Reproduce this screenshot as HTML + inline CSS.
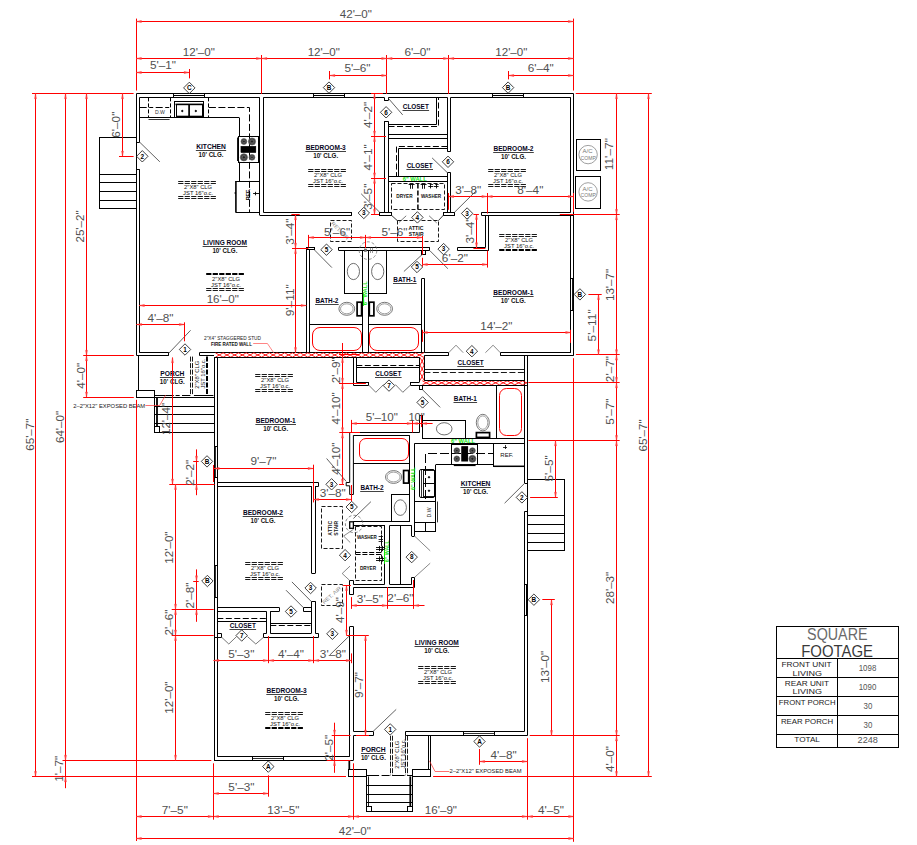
<!DOCTYPE html>
<html><head><meta charset="utf-8"><title>Floor Plan</title>
<style>
html,body{margin:0;padding:0;background:#fff;}
body{width:917px;height:845px;overflow:hidden;font-family:"Liberation Sans",sans-serif;}
svg{display:block;font-family:"Liberation Sans",sans-serif;}
</style></head><body>
<svg width="917" height="845" viewBox="0 0 917 845">
<rect x="0" y="0" width="917" height="845" fill="#fff"/>
<line x1="136.5" y1="93.5" x2="573.5" y2="93.5" stroke="#000" stroke-width="1"/>
<line x1="136.5" y1="93.5" x2="136.5" y2="142.2" stroke="#000" stroke-width="1"/>
<line x1="136.5" y1="169.4" x2="136.5" y2="355.4" stroke="#000" stroke-width="1"/>
<line x1="136.5" y1="142.5" x2="139.7" y2="142.5" stroke="#000" stroke-width="1"/>
<line x1="136.5" y1="169.5" x2="139.7" y2="169.5" stroke="#000" stroke-width="1"/>
<line x1="573.5" y1="93.5" x2="573.5" y2="355.3" stroke="#000" stroke-width="1"/>
<line x1="136.5" y1="355.5" x2="168.8" y2="355.5" stroke="#000" stroke-width="1"/>
<line x1="199.4" y1="355.5" x2="214" y2="355.5" stroke="#000" stroke-width="1"/>
<line x1="139.7" y1="97.5" x2="259.7" y2="97.5" stroke="#000" stroke-width="1"/>
<line x1="263.5" y1="97.5" x2="384.1" y2="97.5" stroke="#000" stroke-width="1"/>
<line x1="388.5" y1="97.5" x2="447.4" y2="97.5" stroke="#000" stroke-width="1"/>
<line x1="450.7" y1="97.5" x2="570.7" y2="97.5" stroke="#000" stroke-width="1"/>
<line x1="139.5" y1="97.4" x2="139.5" y2="142.2" stroke="#000" stroke-width="1"/>
<line x1="139.5" y1="169.4" x2="139.5" y2="352.8" stroke="#000" stroke-width="1"/>
<line x1="139.7" y1="352.5" x2="168.8" y2="352.5" stroke="#000" stroke-width="1"/>
<line x1="168.5" y1="352.8" x2="168.5" y2="355.4" stroke="#000" stroke-width="1"/>
<line x1="199.5" y1="352.8" x2="199.5" y2="355.4" stroke="#000" stroke-width="1"/>
<line x1="199.4" y1="352.5" x2="424" y2="352.5" stroke="#000" stroke-width="1"/>
<line x1="570.5" y1="97.4" x2="570.5" y2="212.4" stroke="#000" stroke-width="1"/>
<line x1="570.5" y1="215.3" x2="570.5" y2="352.7" stroke="#000" stroke-width="1"/>
<line x1="173.5" y1="95.5" x2="204.5" y2="95.5" stroke="#000" stroke-width="1"/>
<line x1="173.5" y1="93.5" x2="173.5" y2="97.4" stroke="#000" stroke-width="1"/>
<line x1="204.5" y1="93.5" x2="204.5" y2="97.4" stroke="#000" stroke-width="1"/>
<line x1="313.2" y1="95.5" x2="344.9" y2="95.5" stroke="#000" stroke-width="1"/>
<line x1="313.5" y1="93.5" x2="313.5" y2="97.4" stroke="#000" stroke-width="1"/>
<line x1="344.5" y1="93.5" x2="344.5" y2="97.4" stroke="#000" stroke-width="1"/>
<line x1="492.6" y1="95.5" x2="523.8" y2="95.5" stroke="#000" stroke-width="1"/>
<line x1="492.5" y1="93.5" x2="492.5" y2="97.4" stroke="#000" stroke-width="1"/>
<line x1="523.5" y1="93.5" x2="523.5" y2="97.4" stroke="#000" stroke-width="1"/>
<line x1="572.5" y1="278.5" x2="572.5" y2="310.6" stroke="#000" stroke-width="0.9"/>
<line x1="570.7" y1="278.5" x2="573.5" y2="278.5" stroke="#000" stroke-width="1"/>
<line x1="570.7" y1="310.5" x2="573.5" y2="310.5" stroke="#000" stroke-width="1"/>
<line x1="259.5" y1="97.4" x2="259.5" y2="215.2" stroke="#000" stroke-width="1"/>
<line x1="263.5" y1="97.4" x2="263.5" y2="212.4" stroke="#000" stroke-width="1"/>
<line x1="259.7" y1="215.5" x2="351.9" y2="215.5" stroke="#000" stroke-width="1"/>
<line x1="263.4" y1="212.5" x2="351.9" y2="212.5" stroke="#000" stroke-width="1"/>
<line x1="351.5" y1="212.4" x2="351.5" y2="215.2" stroke="#000" stroke-width="1"/>
<line x1="139.7" y1="117.5" x2="239" y2="117.5" stroke="#000" stroke-width="1"/>
<line x1="239.5" y1="117.5" x2="239.5" y2="136.3" stroke="#000" stroke-width="1"/>
<line x1="239.5" y1="161.8" x2="239.5" y2="181" stroke="#000" stroke-width="1"/>
<line x1="139.7" y1="107.5" x2="170.7" y2="107.5" stroke="#000" stroke-width="1" stroke-dasharray="7 2.5 4 2.5"/>
<line x1="148.5" y1="97.4" x2="148.5" y2="117.5" stroke="#000" stroke-width="1" stroke-dasharray="4 2"/>
<line x1="170.5" y1="97.4" x2="170.5" y2="117.5" stroke="#000" stroke-width="1" stroke-dasharray="4 2"/>
<line x1="208.5" y1="97.4" x2="208.5" y2="117.5" stroke="#000" stroke-width="1" stroke-dasharray="4 2"/>
<polyline points="208.9,107.5 249.5,107.5 249.5,213" fill="none" stroke="#000" stroke-width="1" stroke-dasharray="7 2.5"/>
<line x1="148.5" y1="119.5" x2="169.6" y2="119.5" stroke="#000" stroke-width="0.8"/>
<text x="0" y="1.93" font-size="5.4" fill="#333" text-anchor="middle" textLength="10" lengthAdjust="spacingAndGlyphs" transform="translate(159.9 111.6)">D.W</text>
<rect x="174.5" y="101.5" width="29" height="16" fill="none" stroke="#000" stroke-width="1"/>
<line x1="175.5" y1="104.4" x2="203" y2="104.4" stroke="#000" stroke-width="1.6"/>
<line x1="176.5" y1="104.4" x2="176.5" y2="116.5" stroke="#000" stroke-width="1"/>
<line x1="202.5" y1="104.4" x2="202.5" y2="116.5" stroke="#000" stroke-width="1"/>
<line x1="189.1" y1="104.4" x2="189.1" y2="116.5" stroke="#000" stroke-width="1.7"/>
<line x1="176" y1="116.4" x2="203" y2="116.4" stroke="#000" stroke-width="1.4"/>
<ellipse cx="182.3" cy="111" rx="0.7" ry="0.7" fill="#000" stroke="#000" stroke-width="1"/>
<ellipse cx="195.8" cy="111" rx="0.7" ry="0.7" fill="#000" stroke="#000" stroke-width="1"/>
<rect x="238.5" y="136.5" width="20" height="26" fill="none" stroke="#000" stroke-width="1"/>
<line x1="237.8" y1="137.4" x2="237.8" y2="160.9" stroke="#000" stroke-width="1.4"/>
<ellipse cx="243.9" cy="141.5" rx="2.9" ry="2.9" fill="#444" stroke="#555" stroke-width="0.6"/>
<ellipse cx="243.9" cy="141.5" rx="1.3" ry="1.3" fill="#222" stroke="#888" stroke-width="0.5"/>
<ellipse cx="252" cy="141.5" rx="3.6" ry="3.6" fill="#444" stroke="#555" stroke-width="0.6"/>
<ellipse cx="252" cy="141.5" rx="1.62" ry="1.62" fill="#222" stroke="#888" stroke-width="0.5"/>
<ellipse cx="243.9" cy="157.3" rx="3.6" ry="3.6" fill="#444" stroke="#555" stroke-width="0.6"/>
<ellipse cx="243.9" cy="157.3" rx="1.62" ry="1.62" fill="#222" stroke="#888" stroke-width="0.5"/>
<ellipse cx="252" cy="157.3" rx="2.9" ry="2.9" fill="#444" stroke="#555" stroke-width="0.6"/>
<ellipse cx="252" cy="157.3" rx="1.3" ry="1.3" fill="#222" stroke="#888" stroke-width="0.5"/>
<rect x="240.9" y="146.2" width="15" height="6.5" fill="#000" stroke="#000" stroke-width="0.4"/>
<line x1="235.9" y1="181" x2="235.9" y2="212.6" stroke="#000" stroke-width="1.6"/>
<line x1="235.7" y1="181.5" x2="259.7" y2="181.5" stroke="#000" stroke-width="1"/>
<line x1="235.7" y1="212.5" x2="259.7" y2="212.5" stroke="#000" stroke-width="1"/>
<line x1="234.6" y1="193" x2="236" y2="193" stroke="#000" stroke-width="1.6"/>
<text x="0" y="2.08" font-size="5.8" fill="#000" text-anchor="middle" font-weight="bold" textLength="11.5" lengthAdjust="spacingAndGlyphs" transform="translate(248.4 194.5) rotate(-90)">REF.</text>
<line x1="253.1" y1="193.5" x2="259" y2="193.5" stroke="#000" stroke-width="0.9"/>
<line x1="255.5" y1="191.8" x2="255.5" y2="195.3" stroke="#000" stroke-width="0.9"/>
<line x1="384.5" y1="121.4" x2="384.5" y2="212.4" stroke="#000" stroke-width="1"/>
<line x1="388.5" y1="121.4" x2="388.5" y2="212.4" stroke="#000" stroke-width="1"/>
<line x1="384.1" y1="121.5" x2="388.5" y2="121.5" stroke="#000" stroke-width="1"/>
<line x1="384.5" y1="97.4" x2="384.5" y2="100.3" stroke="#000" stroke-width="1"/>
<line x1="388.5" y1="97.4" x2="388.5" y2="100.3" stroke="#000" stroke-width="1"/>
<line x1="384.1" y1="100.5" x2="388.5" y2="100.5" stroke="#000" stroke-width="1"/>
<rect x="379.5" y="212.5" width="12" height="3" fill="none" stroke="#000" stroke-width="1"/>
<line x1="388.5" y1="134.5" x2="447.4" y2="134.5" stroke="#000" stroke-width="1"/>
<line x1="388.5" y1="138.5" x2="447.4" y2="138.5" stroke="#000" stroke-width="1"/>
<polyline points="388.5,124.5 436.5,124.5 436.5,97.5" fill="none" stroke="#000" stroke-width="1"/>
<polyline points="388.5,126.5 438.5,126.5 438.5,97.5" fill="none" stroke="#000" stroke-width="1" stroke-dasharray="6 2.5"/>
<polyline points="447.4,146.5 396.5,146.5 396.5,176" fill="none" stroke="#000" stroke-width="1" stroke-dasharray="6 2.5"/>
<polyline points="447.4,148.5 398.5,148.5 398.5,176" fill="none" stroke="#000" stroke-width="1"/>
<line x1="388.5" y1="176.5" x2="447.4" y2="176.5" stroke="#000" stroke-width="1"/>
<line x1="388.5" y1="181.5" x2="447.4" y2="181.5" stroke="#000" stroke-width="1"/>
<line x1="447.5" y1="97.4" x2="447.5" y2="151.5" stroke="#000" stroke-width="1"/>
<line x1="450.5" y1="97.4" x2="450.5" y2="151.5" stroke="#000" stroke-width="1"/>
<line x1="447.4" y1="151.5" x2="450.7" y2="151.5" stroke="#000" stroke-width="1"/>
<line x1="447.5" y1="172.7" x2="447.5" y2="212.4" stroke="#000" stroke-width="1"/>
<line x1="450.5" y1="172.7" x2="450.5" y2="212.4" stroke="#000" stroke-width="1"/>
<line x1="447.4" y1="172.5" x2="450.7" y2="172.5" stroke="#000" stroke-width="1"/>
<rect x="443.5" y="212.5" width="11" height="3" fill="none" stroke="#000" stroke-width="1"/>
<rect x="391.5" y="183.5" width="53" height="26" fill="none" stroke="#000" stroke-width="0.9" stroke-dasharray="4 2"/>
<line x1="417.9" y1="183.6" x2="417.9" y2="209.3" stroke="#000" stroke-width="1.5" stroke-dasharray="5 2"/>
<text x="0" y="1.72" font-size="4.8" fill="#111" text-anchor="middle" font-weight="bold" textLength="16.3" lengthAdjust="spacingAndGlyphs" transform="translate(404.5 196.7)">DRYER</text>
<text x="0" y="1.72" font-size="4.8" fill="#111" text-anchor="middle" font-weight="bold" textLength="20.2" lengthAdjust="spacingAndGlyphs" transform="translate(431 196.3)">WASHER</text>
<line x1="410.5" y1="184" x2="410.5" y2="188.8" stroke="#000" stroke-width="0.9"/>
<line x1="412.5" y1="184" x2="412.5" y2="188.8" stroke="#000" stroke-width="0.9"/>
<line x1="408.6" y1="184.5" x2="414.6" y2="184.5" stroke="#000" stroke-width="0.9"/>
<line x1="422.5" y1="184" x2="422.5" y2="188.8" stroke="#000" stroke-width="0.9"/>
<line x1="424.5" y1="184" x2="424.5" y2="188.8" stroke="#000" stroke-width="0.9"/>
<line x1="420.6" y1="184.5" x2="426.6" y2="184.5" stroke="#000" stroke-width="0.9"/>
<line x1="430.5" y1="184" x2="430.5" y2="188.4" stroke="#000" stroke-width="0.9"/>
<line x1="428.3" y1="186.5" x2="433.1" y2="186.5" stroke="#000" stroke-width="0.9"/>
<line x1="429.7" y1="184.5" x2="433.1" y2="184.5" stroke="#000" stroke-width="0.8"/>
<line x1="436.5" y1="184" x2="436.5" y2="188.4" stroke="#000" stroke-width="0.9"/>
<line x1="433.8" y1="186.5" x2="438.6" y2="186.5" stroke="#000" stroke-width="0.9"/>
<line x1="435.2" y1="184.5" x2="438.6" y2="184.5" stroke="#000" stroke-width="0.8"/>
<text x="0" y="1.86" font-size="5.2" fill="#12e612" text-anchor="middle" font-weight="bold" textLength="24" lengthAdjust="spacingAndGlyphs" transform="translate(414.7 178.7)">6&quot; WALL</text>
<line x1="391.2" y1="215" x2="397.4" y2="220.7" stroke="#222" stroke-width="0.9"/>
<line x1="443.6" y1="215" x2="438.3" y2="220.7" stroke="#222" stroke-width="0.9"/>
<line x1="399.1" y1="222.3" x2="406.2" y2="215.8" stroke="#555" stroke-width="0.8"/>
<line x1="436.7" y1="222.9" x2="429.1" y2="215.8" stroke="#555" stroke-width="0.8"/>
<line x1="481.5" y1="212.5" x2="570.7" y2="212.5" stroke="#000" stroke-width="1"/>
<line x1="481.5" y1="215.5" x2="573.5" y2="215.5" stroke="#000" stroke-width="1"/>
<line x1="481.5" y1="212.4" x2="481.5" y2="215.3" stroke="#000" stroke-width="1"/>
<line x1="485.5" y1="215.3" x2="485.5" y2="247.5" stroke="#000" stroke-width="1"/>
<line x1="488.5" y1="215.3" x2="488.5" y2="250.6" stroke="#000" stroke-width="1"/>
<line x1="457.5" y1="247.5" x2="485.4" y2="247.5" stroke="#000" stroke-width="1"/>
<line x1="457.5" y1="250.5" x2="488.7" y2="250.5" stroke="#000" stroke-width="1"/>
<line x1="457.5" y1="247.5" x2="457.5" y2="250.6" stroke="#000" stroke-width="1"/>
<line x1="338.5" y1="247.5" x2="429.8" y2="247.5" stroke="#000" stroke-width="1"/>
<line x1="338.5" y1="250.5" x2="429.8" y2="250.5" stroke="#000" stroke-width="1"/>
<line x1="338.5" y1="247.3" x2="338.5" y2="250.2" stroke="#000" stroke-width="1"/>
<line x1="429.5" y1="247.3" x2="429.5" y2="250.2" stroke="#000" stroke-width="1"/>
<rect x="421.5" y="250.5" width="4" height="4" fill="none" stroke="#000" stroke-width="1"/>
<line x1="306.5" y1="247.3" x2="306.5" y2="352.8" stroke="#000" stroke-width="1"/>
<line x1="309.5" y1="249.7" x2="309.5" y2="352.8" stroke="#000" stroke-width="1"/>
<rect x="306.5" y="247.5" width="8" height="2" fill="none" stroke="#000" stroke-width="1"/>
<line x1="362.5" y1="250.2" x2="362.5" y2="352.8" stroke="#000" stroke-width="1"/>
<line x1="368.5" y1="250.2" x2="368.5" y2="352.8" stroke="#000" stroke-width="1"/>
<line x1="421.5" y1="278.5" x2="421.5" y2="352.8" stroke="#000" stroke-width="1"/>
<line x1="424.5" y1="278.5" x2="424.5" y2="352.8" stroke="#000" stroke-width="1"/>
<line x1="421.8" y1="278.5" x2="424.6" y2="278.5" stroke="#000" stroke-width="1"/>
<rect x="344.5" y="250.5" width="18" height="43" fill="none" stroke="#000" stroke-width="1"/>
<rect x="368.5" y="250.5" width="18" height="43" fill="none" stroke="#000" stroke-width="1"/>
<ellipse cx="353.4" cy="271.5" rx="6.1" ry="8.1" fill="none" stroke="#4a4a4a" stroke-width="0.8"/>
<ellipse cx="377.7" cy="271.5" rx="6.1" ry="8.1" fill="none" stroke="#4a4a4a" stroke-width="0.8"/>
<ellipse cx="346.8" cy="308.8" rx="7.9" ry="6.5" fill="none" stroke="#555" stroke-width="0.8"/>
<ellipse cx="346.8" cy="308.8" rx="6.3" ry="5" fill="none" stroke="#777" stroke-width="0.7"/>
<ellipse cx="384.6" cy="308.8" rx="7.9" ry="6.5" fill="none" stroke="#555" stroke-width="0.8"/>
<ellipse cx="384.6" cy="308.8" rx="6.3" ry="5" fill="none" stroke="#777" stroke-width="0.7"/>
<rect x="357.1" y="302.2" width="4.5" height="13.6" fill="#fff" stroke="#000" stroke-width="1.7"/>
<rect x="369.3" y="302.2" width="4.6" height="13.6" fill="#fff" stroke="#000" stroke-width="1.7"/>
<line x1="309.4" y1="324.5" x2="362.9" y2="324.5" stroke="#000" stroke-width="1"/>
<line x1="368.3" y1="324.5" x2="421.8" y2="324.5" stroke="#000" stroke-width="1"/>
<rect x="312.5" y="327.5" width="49" height="23" fill="none" stroke="#ff0000" stroke-width="1" rx="7.5"/>
<rect x="369.5" y="327.5" width="49" height="23" fill="none" stroke="#ff0000" stroke-width="1" rx="7.5"/>
<line x1="342.5" y1="343" x2="342.5" y2="352" stroke="#ff0000" stroke-width="1"/>
<ellipse cx="368" cy="250.6" rx="8.8" ry="8.8" fill="none" stroke="#666" stroke-width="0.7" stroke-dasharray="3 2"/>
<rect x="364.6" y="249" width="2" height="2.4" fill="#777" stroke="#555" stroke-width="0.6"/>
<line x1="370.5" y1="247.5" x2="370.5" y2="253" stroke="#555" stroke-width="0.6"/>
<line x1="372.5" y1="247.5" x2="372.5" y2="253" stroke="#555" stroke-width="0.6"/>
<line x1="363.5" y1="293.2" x2="363.5" y2="305.9" stroke="#12e612" stroke-width="1"/>
<text x="0" y="1.86" font-size="5.2" fill="#12e612" text-anchor="middle" font-weight="bold" textLength="24" lengthAdjust="spacingAndGlyphs" transform="translate(365.6 293.2) rotate(-90)">6&quot; WALL</text>
<rect x="330.5" y="220.5" width="21" height="21" fill="none" stroke="#000" stroke-width="0.9" stroke-dasharray="4 2"/>
<text x="0" y="1.86" font-size="5.2" fill="#8a8a8a" text-anchor="middle" textLength="23" lengthAdjust="spacingAndGlyphs" transform="translate(340.2 230.7) rotate(46)">RET. AIR</text>
<rect x="397.5" y="220.5" width="41" height="21" fill="none" stroke="#000" stroke-width="0.9" stroke-dasharray="4 2"/>
<text x="0" y="1.79" font-size="5" fill="#111" text-anchor="middle" font-weight="bold" textLength="14.8" lengthAdjust="spacingAndGlyphs" transform="translate(416 228.4)">ATTIC</text>
<text x="0" y="1.79" font-size="5" fill="#111" text-anchor="middle" font-weight="bold" textLength="14.7" lengthAdjust="spacingAndGlyphs" transform="translate(416.2 234.4)">STAIR</text>
<line x1="424.3" y1="355.5" x2="448.7" y2="355.5" stroke="#000" stroke-width="1"/>
<line x1="448.5" y1="352.7" x2="448.5" y2="355.5" stroke="#000" stroke-width="1"/>
<line x1="424.3" y1="352.5" x2="448.7" y2="352.5" stroke="#000" stroke-width="1"/>
<line x1="500.3" y1="352.5" x2="570.9" y2="352.5" stroke="#000" stroke-width="1"/>
<line x1="500.3" y1="355.5" x2="573.8" y2="355.5" stroke="#000" stroke-width="1"/>
<line x1="500.5" y1="352.7" x2="500.5" y2="355.5" stroke="#000" stroke-width="1"/>
<line x1="524.5" y1="355.5" x2="524.5" y2="483.2" stroke="#000" stroke-width="1"/>
<line x1="527.5" y1="355.5" x2="527.5" y2="385" stroke="#000" stroke-width="1"/>
<line x1="424.4" y1="369.5" x2="524.3" y2="369.5" stroke="#000" stroke-width="0.9"/>
<line x1="424.4" y1="372.5" x2="524.3" y2="372.5" stroke="#000" stroke-width="0.9" stroke-dasharray="6 2.5"/>
<polyline points="448.7,352.7 456,345.2 463.2,352.7" fill="none" stroke="#555" stroke-width="0.7"/>
<polyline points="485.4,352.7 493.1,345.2 500.3,352.7" fill="none" stroke="#555" stroke-width="0.7"/>
<polyline points="215.4,352.8 223.1,357.2 230.8,352.8 238.5,357.2 246.2,352.8 253.9,357.2 261.6,352.8 269.3,357.2 277,352.8 284.7,357.2 292.4,352.8 300.1,357.2 307.8,352.8 315.5,357.2 323.2,352.8 330.9,357.2 338.6,352.8 346.3,357.2 354,352.8 361.7,357.2 369.4,352.8 377.1,357.2 384.8,352.8 392.5,357.2 400.2,352.8 407.9,357.2 415.6,352.8 423.3,357.2 424,356.8" fill="none" stroke="#ff0000" stroke-width="0.9"/>
<polyline points="215.4,357.2 223.1,352.8 230.8,357.2 238.5,352.8 246.2,357.2 253.9,352.8 261.6,357.2 269.3,352.8 277,357.2 284.7,352.8 292.4,357.2 300.1,352.8 307.8,357.2 315.5,352.8 323.2,357.2 330.9,352.8 338.6,357.2 346.3,352.8 354,357.2 361.7,352.8 369.4,357.2 377.1,352.8 384.8,357.2 392.5,352.8 400.2,357.2 407.9,352.8 415.6,357.2 423.3,352.8 424,353.2" fill="none" stroke="#ff0000" stroke-width="0.9"/>
<line x1="214" y1="357.5" x2="419.5" y2="357.5" stroke="#000" stroke-width="1"/>
<polyline points="420,357.4 424.2,365.1 420,372.8 424.2,380.5 424.15,380.6" fill="none" stroke="#ff0000" stroke-width="0.9"/>
<polyline points="424.2,357.4 420,365.1 424.2,372.8 420,380.5 420.05,380.6" fill="none" stroke="#ff0000" stroke-width="0.9"/>
<polyline points="422.4,380.8 430.1,384.8 437.8,380.8 445.5,384.8 453.2,380.8 460.9,384.8 468.6,380.8 476.3,384.8 484,380.8 491.7,384.8 499.4,380.8 507.1,384.8 514.8,380.8 522.5,384.8 527,382.46" fill="none" stroke="#ff0000" stroke-width="0.9"/>
<polyline points="422.4,384.8 430.1,380.8 437.8,384.8 445.5,380.8 453.2,384.8 460.9,380.8 468.6,384.8 476.3,380.8 484,384.8 491.7,380.8 499.4,384.8 507.1,380.8 514.8,384.8 522.5,380.8 527,383.14" fill="none" stroke="#ff0000" stroke-width="0.9"/>
<line x1="419.5" y1="357.3" x2="419.5" y2="382" stroke="#000" stroke-width="1"/>
<line x1="419.5" y1="382.5" x2="410.4" y2="382.5" stroke="#000" stroke-width="1"/>
<line x1="424.5" y1="355.5" x2="424.5" y2="380.6" stroke="#000" stroke-width="1"/>
<line x1="424.3" y1="380.5" x2="524.3" y2="380.5" stroke="#000" stroke-width="1"/>
<line x1="422.1" y1="385.5" x2="526.9" y2="385.5" stroke="#000" stroke-width="1"/>
<rect x="99.5" y="137.5" width="37" height="71" fill="none" stroke="#000" stroke-width="1"/>
<line x1="99.2" y1="174.5" x2="136.5" y2="174.5" stroke="#000" stroke-width="1"/>
<line x1="99.2" y1="182.5" x2="136.5" y2="182.5" stroke="#000" stroke-width="1"/>
<line x1="99.2" y1="191.5" x2="136.5" y2="191.5" stroke="#000" stroke-width="1"/>
<line x1="99.2" y1="200.5" x2="136.5" y2="200.5" stroke="#000" stroke-width="1"/>
<rect x="576.5" y="139.5" width="24" height="31" fill="none" stroke="#000" stroke-width="1"/>
<rect x="575.5" y="176.5" width="25" height="32" fill="none" stroke="#000" stroke-width="1"/>
<ellipse cx="588.1" cy="154.6" rx="9.2" ry="9.2" fill="none" stroke="#777" stroke-width="0.7"/>
<text x="0" y="1.86" font-size="5.2" fill="#777" text-anchor="middle" textLength="10" lengthAdjust="spacingAndGlyphs" transform="translate(587.5 151.4)">A/C</text>
<text x="0" y="1.86" font-size="5.2" fill="#777" text-anchor="middle" textLength="16" lengthAdjust="spacingAndGlyphs" transform="translate(588.6 158)">COMP.</text>
<ellipse cx="588.1" cy="191.9" rx="9.2" ry="9.2" fill="none" stroke="#777" stroke-width="0.7"/>
<text x="0" y="1.86" font-size="5.2" fill="#777" text-anchor="middle" textLength="10" lengthAdjust="spacingAndGlyphs" transform="translate(587.5 188.7)">A/C</text>
<text x="0" y="1.86" font-size="5.2" fill="#777" text-anchor="middle" textLength="16" lengthAdjust="spacingAndGlyphs" transform="translate(588.6 195.3)">COMP.</text>
<line x1="138.5" y1="355.4" x2="138.5" y2="390.3" stroke="#000" stroke-width="1"/>
<rect x="136.5" y="390.5" width="18" height="7" fill="none" stroke="#000" stroke-width="1"/>
<line x1="154.6" y1="395.5" x2="173.8" y2="395.5" stroke="#000" stroke-width="1"/>
<line x1="175.6" y1="395.5" x2="179.7" y2="395.5" stroke="#000" stroke-width="1"/>
<line x1="182" y1="395.5" x2="190.4" y2="395.5" stroke="#000" stroke-width="1"/>
<line x1="193.9" y1="395.5" x2="213.4" y2="395.5" stroke="#000" stroke-width="1"/>
<line x1="190.5" y1="356.6" x2="190.5" y2="395.3" stroke="#000" stroke-width="0.9" stroke-dasharray="5 1.5"/>
<line x1="192.5" y1="356.6" x2="192.5" y2="395.3" stroke="#000" stroke-width="0.9" stroke-dasharray="5 1.5"/>
<line x1="207" y1="356.6" x2="207" y2="395.3" stroke="#000" stroke-width="2" stroke-dasharray="5 1.5"/>
<g transform="translate(200.2 374.2) rotate(-90)"><text x="-0.5" y="-1.6" font-size="4.9" fill="#111" text-anchor="middle" textLength="28" lengthAdjust="spacingAndGlyphs">2"X8" CLG</text><text x="0.6" y="4.9" font-size="4.9" fill="#111" text-anchor="middle" textLength="30" lengthAdjust="spacingAndGlyphs">JST 16"o.c.</text></g>
<line x1="154.4" y1="397.5" x2="214" y2="397.5" stroke="#000" stroke-width="1"/>
<line x1="154.6" y1="406.5" x2="214" y2="406.5" stroke="#000" stroke-width="1"/>
<line x1="154.6" y1="414.5" x2="214" y2="414.5" stroke="#000" stroke-width="1"/>
<line x1="154.6" y1="423.5" x2="214" y2="423.5" stroke="#000" stroke-width="1"/>
<line x1="154.6" y1="432.5" x2="214" y2="432.5" stroke="#000" stroke-width="1"/>
<line x1="157" y1="397.3" x2="157" y2="426.6" stroke="#000" stroke-width="1.8"/>
<line x1="154.5" y1="397.3" x2="154.5" y2="432.3" stroke="#000" stroke-width="1"/>
<rect x="154.5" y="426.5" width="5" height="6" fill="none" stroke="#000" stroke-width="1"/>
<line x1="214.5" y1="357.3" x2="214.5" y2="760.3" stroke="#000" stroke-width="1"/>
<line x1="217.5" y1="357.3" x2="217.5" y2="756.5" stroke="#000" stroke-width="1"/>
<line x1="215.5" y1="446.2" x2="215.5" y2="477.8" stroke="#000" stroke-width="0.8"/>
<line x1="214" y1="446.5" x2="217.3" y2="446.5" stroke="#000" stroke-width="1"/>
<line x1="214" y1="477.5" x2="217.3" y2="477.5" stroke="#000" stroke-width="1"/>
<line x1="215.5" y1="565.1" x2="215.5" y2="597.8" stroke="#000" stroke-width="0.8"/>
<line x1="214" y1="565.5" x2="217.3" y2="565.5" stroke="#000" stroke-width="1"/>
<line x1="214" y1="597.5" x2="217.3" y2="597.5" stroke="#000" stroke-width="1"/>
<line x1="217.3" y1="482.5" x2="318.7" y2="482.5" stroke="#000" stroke-width="1"/>
<line x1="217.3" y1="486.5" x2="311.5" y2="486.5" stroke="#000" stroke-width="1"/>
<line x1="315.4" y1="486.5" x2="318.7" y2="486.5" stroke="#000" stroke-width="1"/>
<line x1="318.5" y1="482.8" x2="318.5" y2="486.1" stroke="#000" stroke-width="1"/>
<line x1="311.5" y1="486.1" x2="311.5" y2="573.2" stroke="#000" stroke-width="1"/>
<line x1="315.5" y1="486.1" x2="315.5" y2="573.2" stroke="#000" stroke-width="1"/>
<line x1="311.5" y1="573.5" x2="315.4" y2="573.5" stroke="#000" stroke-width="1"/>
<line x1="311.5" y1="601.3" x2="311.5" y2="633.2" stroke="#000" stroke-width="1"/>
<line x1="315.5" y1="601.3" x2="315.5" y2="633.5" stroke="#000" stroke-width="1"/>
<line x1="311.5" y1="601.5" x2="315.4" y2="601.5" stroke="#000" stroke-width="1"/>
<line x1="217.3" y1="607.5" x2="279.4" y2="607.5" stroke="#000" stroke-width="1"/>
<line x1="217.3" y1="611.5" x2="266.3" y2="611.5" stroke="#000" stroke-width="1"/>
<line x1="270.3" y1="611.5" x2="279.4" y2="611.5" stroke="#000" stroke-width="1"/>
<line x1="279.5" y1="607.6" x2="279.5" y2="611.3" stroke="#000" stroke-width="1"/>
<line x1="303.4" y1="607.5" x2="311.5" y2="607.5" stroke="#000" stroke-width="1"/>
<line x1="303.4" y1="611.5" x2="311.5" y2="611.5" stroke="#000" stroke-width="1"/>
<line x1="303.5" y1="607.6" x2="303.5" y2="611.3" stroke="#000" stroke-width="1"/>
<line x1="266.5" y1="611.3" x2="266.5" y2="633.5" stroke="#000" stroke-width="1"/>
<line x1="270.5" y1="611.3" x2="270.5" y2="633.2" stroke="#000" stroke-width="1"/>
<line x1="217.3" y1="618.5" x2="266.3" y2="618.5" stroke="#000" stroke-width="1" stroke-dasharray="6 2.5"/>
<line x1="217.3" y1="621.5" x2="266.3" y2="621.5" stroke="#000" stroke-width="1"/>
<line x1="270.3" y1="623.5" x2="311.5" y2="623.5" stroke="#000" stroke-width="1"/>
<line x1="270.3" y1="625.5" x2="311.5" y2="625.5" stroke="#000" stroke-width="1" stroke-dasharray="6 2.5"/>
<polyline points="217.5,633.5 221.5,633.5 221.5,637.5 214,637.5" fill="none" stroke="#000" stroke-width="1"/>
<line x1="270.3" y1="633.5" x2="311.5" y2="633.5" stroke="#000" stroke-width="1"/>
<polyline points="266.5,633.5 263.5,633.5 263.5,637.5 318.5,637.5 318.5,633.5 315.5,633.5" fill="none" stroke="#000" stroke-width="1"/>
<polyline points="221.7,637.3 228.8,644 236.5,636.6" fill="none" stroke="#555" stroke-width="0.8"/>
<polyline points="247.5,636.6 255.8,644 263.5,637.3" fill="none" stroke="#555" stroke-width="0.8"/>
<line x1="214" y1="760.5" x2="353.5" y2="760.5" stroke="#000" stroke-width="1"/>
<line x1="217.3" y1="756.5" x2="349.8" y2="756.5" stroke="#000" stroke-width="1"/>
<line x1="349.5" y1="626.6" x2="349.5" y2="756.5" stroke="#000" stroke-width="1"/>
<line x1="353.5" y1="626.6" x2="353.5" y2="731.4" stroke="#000" stroke-width="1"/>
<line x1="349.8" y1="626.5" x2="353.5" y2="626.5" stroke="#000" stroke-width="1"/>
<line x1="252.2" y1="758.5" x2="283.3" y2="758.5" stroke="#000" stroke-width="0.8"/>
<line x1="252.5" y1="756.5" x2="252.5" y2="760.3" stroke="#000" stroke-width="1"/>
<line x1="283.5" y1="756.5" x2="283.5" y2="760.3" stroke="#000" stroke-width="1"/>
<line x1="353.5" y1="731.5" x2="373.1" y2="731.5" stroke="#000" stroke-width="1"/>
<line x1="353.5" y1="735.5" x2="373.1" y2="735.5" stroke="#000" stroke-width="1"/>
<line x1="373.5" y1="731.4" x2="373.5" y2="735.7" stroke="#000" stroke-width="1"/>
<line x1="405.6" y1="731.5" x2="524.5" y2="731.5" stroke="#000" stroke-width="1"/>
<line x1="405.6" y1="735.5" x2="527.3" y2="735.5" stroke="#000" stroke-width="1"/>
<line x1="405.5" y1="731.4" x2="405.5" y2="735.7" stroke="#000" stroke-width="1"/>
<line x1="463.5" y1="733.5" x2="494.6" y2="733.5" stroke="#000" stroke-width="0.8"/>
<line x1="463.5" y1="731.4" x2="463.5" y2="735.7" stroke="#000" stroke-width="1"/>
<line x1="494.5" y1="731.4" x2="494.5" y2="735.7" stroke="#000" stroke-width="1"/>
<line x1="527.5" y1="385" x2="527.5" y2="483.2" stroke="#000" stroke-width="1"/>
<line x1="524.5" y1="483.5" x2="527.3" y2="483.5" stroke="#000" stroke-width="1"/>
<line x1="524.5" y1="511.5" x2="524.5" y2="731.4" stroke="#000" stroke-width="1"/>
<line x1="527.5" y1="511.5" x2="527.5" y2="735.7" stroke="#000" stroke-width="1"/>
<line x1="524.5" y1="511.5" x2="527.3" y2="511.5" stroke="#000" stroke-width="1"/>
<line x1="526.5" y1="584" x2="526.5" y2="615.6" stroke="#000" stroke-width="1"/>
<line x1="524.5" y1="584.5" x2="527.3" y2="584.5" stroke="#000" stroke-width="1"/>
<line x1="524.5" y1="615.5" x2="527.3" y2="615.5" stroke="#000" stroke-width="1"/>
<line x1="353.5" y1="735.7" x2="353.5" y2="760.2" stroke="#000" stroke-width="1"/>
<line x1="349.3" y1="760.2" x2="349.3" y2="769.7" stroke="#000" stroke-width="1.7"/>
<rect x="348.5" y="769.5" width="18" height="7" fill="none" stroke="#000" stroke-width="1"/>
<line x1="428.5" y1="735.7" x2="428.5" y2="769.6" stroke="#000" stroke-width="1"/>
<line x1="430.5" y1="735.7" x2="430.5" y2="769.6" stroke="#000" stroke-width="1"/>
<rect x="412.5" y="769.5" width="18" height="7" fill="none" stroke="#000" stroke-width="1"/>
<line x1="366.6" y1="775.5" x2="412.8" y2="775.5" stroke="#000" stroke-width="1" stroke-dasharray="12.5 2.5 8 2.5"/>
<line x1="390.5" y1="735.7" x2="390.5" y2="775.3" stroke="#000" stroke-width="0.9" stroke-dasharray="5 1.5"/>
<line x1="392.5" y1="735.7" x2="392.5" y2="775.3" stroke="#000" stroke-width="0.9" stroke-dasharray="5 1.5"/>
<line x1="405.5" y1="735.7" x2="405.5" y2="775.3" stroke="#000" stroke-width="0.9" stroke-dasharray="5 1.5"/>
<line x1="407.5" y1="735.7" x2="407.5" y2="775.3" stroke="#000" stroke-width="0.9" stroke-dasharray="5 1.5"/>
<g transform="translate(400.1 754.2) rotate(-90)"><text x="-0.5" y="-1.6" font-size="4.9" fill="#111" text-anchor="middle" textLength="28" lengthAdjust="spacingAndGlyphs">2"X8" CLG</text><text x="0.6" y="4.9" font-size="4.9" fill="#111" text-anchor="middle" textLength="30" lengthAdjust="spacingAndGlyphs">JST 16"o.c.</text></g>
<line x1="366.5" y1="776.4" x2="366.5" y2="811.4" stroke="#000" stroke-width="1"/>
<line x1="368.5" y1="776.4" x2="368.5" y2="806.6" stroke="#000" stroke-width="0.9"/>
<line x1="410.3" y1="776.4" x2="410.3" y2="806.6" stroke="#000" stroke-width="1.8"/>
<line x1="412.5" y1="776.4" x2="412.5" y2="811.4" stroke="#000" stroke-width="1"/>
<line x1="366.6" y1="785.5" x2="412.4" y2="785.5" stroke="#000" stroke-width="1"/>
<line x1="366.6" y1="794.5" x2="412.4" y2="794.5" stroke="#000" stroke-width="1"/>
<line x1="366.6" y1="802.5" x2="412.4" y2="802.5" stroke="#000" stroke-width="1"/>
<line x1="366.6" y1="811.5" x2="412.4" y2="811.5" stroke="#000" stroke-width="1"/>
<rect x="366.5" y="806.5" width="5" height="5" fill="none" stroke="#000" stroke-width="1"/>
<rect x="407.5" y="806.5" width="5" height="5" fill="none" stroke="#000" stroke-width="1"/>
<line x1="353.5" y1="357.3" x2="353.5" y2="385.2" stroke="#000" stroke-width="1"/>
<line x1="356.5" y1="357.3" x2="356.5" y2="382" stroke="#000" stroke-width="1"/>
<line x1="356.3" y1="365.5" x2="419.5" y2="365.5" stroke="#000" stroke-width="1" stroke-dasharray="6 2.5"/>
<line x1="356.3" y1="367.5" x2="419.5" y2="367.5" stroke="#000" stroke-width="1"/>
<line x1="356.3" y1="382.5" x2="368.7" y2="382.5" stroke="#000" stroke-width="1"/>
<line x1="353.4" y1="385.5" x2="368.7" y2="385.5" stroke="#000" stroke-width="1"/>
<line x1="368.5" y1="382" x2="368.5" y2="385.2" stroke="#000" stroke-width="1"/>
<line x1="410.5" y1="382" x2="410.5" y2="385.2" stroke="#000" stroke-width="1"/>
<line x1="410.4" y1="385.5" x2="419.5" y2="385.5" stroke="#000" stroke-width="1"/>
<polyline points="368.8,385.2 375.8,392.3 383.6,384.5" fill="none" stroke="#555" stroke-width="0.8"/>
<polyline points="395.3,384.5 402.8,392.3 410.3,385.2" fill="none" stroke="#555" stroke-width="0.8"/>
<rect x="419.5" y="385.5" width="3" height="4" fill="none" stroke="#000" stroke-width="1"/>
<rect x="496.5" y="385.5" width="28" height="53" fill="none" stroke="#000" stroke-width="1"/>
<rect x="499.5" y="388.5" width="22" height="47" fill="none" stroke="#ff0000" stroke-width="1" rx="7"/>
<line x1="422.1" y1="438.5" x2="524.3" y2="438.5" stroke="#000" stroke-width="1"/>
<line x1="414.5" y1="443.5" x2="524.3" y2="443.5" stroke="#000" stroke-width="1"/>
<rect x="422.5" y="420.5" width="43" height="18" fill="none" stroke="#000" stroke-width="1"/>
<ellipse cx="444.2" cy="428.8" rx="7.8" ry="6.1" fill="none" stroke="#4a4a4a" stroke-width="0.8"/>
<ellipse cx="482.8" cy="422.6" rx="6.5" ry="8.3" fill="none" stroke="#555" stroke-width="0.8"/>
<ellipse cx="482.8" cy="422.6" rx="5" ry="6.7" fill="none" stroke="#777" stroke-width="0.7"/>
<rect x="476.4" y="432.6" width="13.2" height="4.8" fill="#fff" stroke="#000" stroke-width="1.7"/>
<line x1="349.7" y1="432.5" x2="419.5" y2="432.5" stroke="#000" stroke-width="1"/>
<line x1="353.4" y1="435.5" x2="409.7" y2="435.5" stroke="#000" stroke-width="1"/>
<line x1="419.5" y1="415" x2="419.5" y2="432.5" stroke="#000" stroke-width="1"/>
<line x1="422.5" y1="415" x2="422.5" y2="438.4" stroke="#000" stroke-width="1"/>
<line x1="419.5" y1="415.5" x2="422.1" y2="415.5" stroke="#000" stroke-width="1"/>
<polyline points="349.7,432.5 349.7,482.5 346.2,482.5 346.2,485.8 349.7,485.8 349.7,494.5 353.4,494.5 353.4,435.3" fill="none" stroke="#000" stroke-width="1"/>
<line x1="409.5" y1="435.3" x2="409.5" y2="521.8" stroke="#000" stroke-width="1"/>
<line x1="414.5" y1="443.4" x2="414.5" y2="536" stroke="#000" stroke-width="1"/>
<line x1="353.4" y1="463.5" x2="409.7" y2="463.5" stroke="#000" stroke-width="1"/>
<rect x="359.5" y="438.5" width="49" height="22" fill="none" stroke="#ff0000" stroke-width="1" rx="6.5"/>
<ellipse cx="393.6" cy="477" rx="8.1" ry="6.4" fill="none" stroke="#555" stroke-width="0.8"/>
<ellipse cx="393.6" cy="477" rx="6.5" ry="4.9" fill="none" stroke="#777" stroke-width="0.7"/>
<rect x="403.6" y="470.5" width="5.1" height="12.6" fill="#fff" stroke="#000" stroke-width="1.7"/>
<rect x="391.5" y="494.5" width="18" height="27" fill="none" stroke="#000" stroke-width="1"/>
<ellipse cx="400.3" cy="507.6" rx="6.1" ry="7.8" fill="none" stroke="#4a4a4a" stroke-width="0.8"/>
<line x1="353.4" y1="521.5" x2="409.7" y2="521.5" stroke="#000" stroke-width="1"/>
<line x1="353.4" y1="525.5" x2="385" y2="525.5" stroke="#000" stroke-width="1"/>
<rect x="349.7" y="521.8" width="3.7" height="6.5" fill="none" stroke="#000" stroke-width="1.3"/>
<ellipse cx="354.1" cy="524" rx="8.7" ry="8.7" fill="none" stroke="#555" stroke-width="0.7" stroke-dasharray="3 2"/>
<text x="0" y="1.86" font-size="5.2" fill="#12e612" text-anchor="middle" font-weight="bold" textLength="22.7" lengthAdjust="spacingAndGlyphs" transform="translate(412.8 478.7) rotate(-90)">6&quot; WALL</text>
<rect x="321.5" y="506.5" width="21" height="42" fill="none" stroke="#000" stroke-width="0.9" stroke-dasharray="4 2"/>
<text x="0" y="1.79" font-size="5" fill="#111" text-anchor="middle" font-weight="bold" textLength="14.8" lengthAdjust="spacingAndGlyphs" transform="translate(330 528.3) rotate(-90)">ATTIC</text>
<text x="0" y="1.79" font-size="5" fill="#111" text-anchor="middle" font-weight="bold" textLength="14.7" lengthAdjust="spacingAndGlyphs" transform="translate(336.2 528.3) rotate(-90)">STAIR</text>
<rect x="321.5" y="584.5" width="21" height="21" fill="none" stroke="#000" stroke-width="0.9" stroke-dasharray="4 2"/>
<text x="0" y="1.86" font-size="5.2" fill="#8a8a8a" text-anchor="middle" textLength="23.5" lengthAdjust="spacingAndGlyphs" transform="translate(331.7 595.1) rotate(-42)">RET. AIR</text>
<rect x="355.5" y="526.5" width="26" height="54" fill="none" stroke="#000" stroke-width="0.9" stroke-dasharray="4 2"/>
<line x1="355.6" y1="552.5" x2="381.8" y2="552.5" stroke="#000" stroke-width="1" stroke-dasharray="5 1.8"/>
<line x1="355.6" y1="554.5" x2="381.8" y2="554.5" stroke="#000" stroke-width="1" stroke-dasharray="5 1.8"/>
<line x1="384.5" y1="525.5" x2="384.5" y2="584.4" stroke="#000" stroke-width="1"/>
<line x1="353.5" y1="584.5" x2="384.6" y2="584.5" stroke="#000" stroke-width="1"/>
<line x1="353.5" y1="587.5" x2="414.5" y2="587.5" stroke="#000" stroke-width="1"/>
<polyline points="353.5,584.5 353.5,580.5 349.5,580.5 349.5,594.5 353.5,594.5 353.5,587.5" fill="none" stroke="#000" stroke-width="1"/>
<text x="0" y="1.72" font-size="4.8" fill="#111" text-anchor="middle" font-weight="bold" textLength="20" lengthAdjust="spacingAndGlyphs" transform="translate(366.9 537.2)">WASHER</text>
<text x="0" y="1.72" font-size="4.8" fill="#111" text-anchor="middle" font-weight="bold" textLength="16.2" lengthAdjust="spacingAndGlyphs" transform="translate(368 568.1)">DRYER</text>
<line x1="381.5" y1="535" x2="381.5" y2="543.5" stroke="#000" stroke-width="0.9"/>
<line x1="378.6" y1="536.5" x2="383" y2="536.5" stroke="#000" stroke-width="0.8"/>
<line x1="378.6" y1="539.5" x2="383" y2="539.5" stroke="#000" stroke-width="0.8"/>
<line x1="378.6" y1="541.5" x2="383" y2="541.5" stroke="#000" stroke-width="0.8"/>
<line x1="376" y1="547.5" x2="384" y2="547.5" stroke="#000" stroke-width="0.9"/>
<line x1="376" y1="549.5" x2="384" y2="549.5" stroke="#000" stroke-width="0.9"/>
<line x1="379.5" y1="545.9" x2="379.5" y2="551.1" stroke="#000" stroke-width="0.9"/>
<line x1="382.5" y1="545.9" x2="382.5" y2="551.1" stroke="#000" stroke-width="0.9"/>
<line x1="376" y1="558.5" x2="384" y2="558.5" stroke="#000" stroke-width="0.9"/>
<line x1="376" y1="560.5" x2="384" y2="560.5" stroke="#000" stroke-width="0.9"/>
<line x1="379.5" y1="556.4" x2="379.5" y2="561.6" stroke="#000" stroke-width="0.9"/>
<line x1="382.5" y1="556.4" x2="382.5" y2="561.6" stroke="#000" stroke-width="0.9"/>
<text x="0" y="1.86" font-size="5.2" fill="#12e612" text-anchor="middle" font-weight="bold" textLength="22" lengthAdjust="spacingAndGlyphs" transform="translate(387.2 551.2) rotate(-90)">6&quot; WALL</text>
<line x1="384.5" y1="549.6" x2="384.5" y2="563.8" stroke="#12e612" stroke-width="1"/>
<polyline points="353.4,529.4 343.6,536 350.2,542.5" fill="none" stroke="#555" stroke-width="0.7"/>
<polyline points="350,566.1 342.2,573.5 349.4,580.2" fill="none" stroke="#555" stroke-width="0.7"/>
<line x1="389.5" y1="525.5" x2="389.5" y2="584.4" stroke="#000" stroke-width="1"/>
<line x1="400.5" y1="525.5" x2="400.5" y2="584.4" stroke="#000" stroke-width="1"/>
<line x1="389.6" y1="525.5" x2="411.7" y2="525.5" stroke="#000" stroke-width="1"/>
<line x1="411.5" y1="525.5" x2="411.5" y2="536" stroke="#000" stroke-width="1"/>
<line x1="411.7" y1="536.5" x2="414.5" y2="536.5" stroke="#000" stroke-width="1"/>
<line x1="411.5" y1="577.4" x2="411.5" y2="584.4" stroke="#000" stroke-width="1"/>
<line x1="414.5" y1="577.4" x2="414.5" y2="587.5" stroke="#000" stroke-width="1"/>
<line x1="411.7" y1="577.5" x2="414.5" y2="577.5" stroke="#000" stroke-width="1"/>
<line x1="389.6" y1="584.5" x2="411.7" y2="584.5" stroke="#000" stroke-width="1"/>
<line x1="414.5" y1="536" x2="430.2" y2="550.8" stroke="#555" stroke-width="0.7"/>
<line x1="414.5" y1="577.4" x2="430.2" y2="563.2" stroke="#555" stroke-width="0.7"/>
<rect x="419.5" y="469.5" width="15" height="28" fill="none" stroke="#000" stroke-width="1" rx="1.5"/>
<line x1="421.5" y1="469.5" x2="421.5" y2="497.8" stroke="#000" stroke-width="0.8"/>
<rect x="423.5" y="470.5" width="11" height="13" fill="none" stroke="#000" stroke-width="0.9"/>
<rect x="423.5" y="483.5" width="11" height="13" fill="none" stroke="#000" stroke-width="0.9"/>
<ellipse cx="429" cy="477.3" rx="0.7" ry="0.7" fill="#000" stroke="#000" stroke-width="1"/>
<ellipse cx="429" cy="490.7" rx="0.7" ry="0.7" fill="#000" stroke="#000" stroke-width="1"/>
<line x1="435.5" y1="464.8" x2="435.5" y2="531.2" stroke="#000" stroke-width="1"/>
<line x1="435.7" y1="464.5" x2="451.6" y2="464.5" stroke="#000" stroke-width="1"/>
<line x1="477.5" y1="464.5" x2="493.5" y2="464.5" stroke="#000" stroke-width="1"/>
<rect x="414.5" y="501.5" width="21" height="21" fill="none" stroke="#000" stroke-width="1"/>
<line x1="437.5" y1="501.5" x2="437.5" y2="522.4" stroke="#000" stroke-width="0.8"/>
<text x="0" y="1.65" font-size="4.6" fill="#333" text-anchor="middle" textLength="10" lengthAdjust="spacingAndGlyphs" transform="translate(429.8 512.5) rotate(-90)">D.W</text>
<rect x="414.5" y="522.5" width="21" height="9" fill="none" stroke="#000" stroke-width="1"/>
<line x1="425.5" y1="522.4" x2="425.5" y2="531.2" stroke="#000" stroke-width="1"/>
<polyline points="425.5,499 425.5,453.5 493.5,453.5" fill="none" stroke="#000" stroke-width="1" stroke-dasharray="9 3"/>
<rect x="451.5" y="444.5" width="26" height="20" fill="none" stroke="#000" stroke-width="1"/>
<ellipse cx="456.8" cy="450.6" rx="2.9" ry="2.9" fill="#444" stroke="#555" stroke-width="0.6"/>
<ellipse cx="456.8" cy="450.6" rx="1.3" ry="1.3" fill="#222" stroke="#888" stroke-width="0.5"/>
<ellipse cx="472.4" cy="450.6" rx="2.9" ry="2.9" fill="#444" stroke="#555" stroke-width="0.6"/>
<ellipse cx="472.4" cy="450.6" rx="1.3" ry="1.3" fill="#222" stroke="#888" stroke-width="0.5"/>
<ellipse cx="456.8" cy="458.8" rx="2.9" ry="2.9" fill="#444" stroke="#555" stroke-width="0.6"/>
<ellipse cx="456.8" cy="458.8" rx="1.3" ry="1.3" fill="#222" stroke="#888" stroke-width="0.5"/>
<ellipse cx="472.4" cy="458.8" rx="3.5" ry="3.5" fill="#444" stroke="#555" stroke-width="0.6"/>
<ellipse cx="472.4" cy="458.8" rx="1.57" ry="1.57" fill="#222" stroke="#888" stroke-width="0.5"/>
<rect x="461.8" y="446.7" width="5.8" height="14.3" fill="#000" stroke="#000" stroke-width="1"/>
<line x1="453.8" y1="465.3" x2="475.6" y2="465.3" stroke="#000" stroke-width="1.6"/>
<rect x="493.5" y="443.5" width="31" height="23" fill="none" stroke="#000" stroke-width="1"/>
<line x1="494" y1="466.3" x2="524" y2="466.3" stroke="#000" stroke-width="1.5"/>
<text x="0" y="2.22" font-size="6.2" fill="#111" text-anchor="middle" textLength="13" lengthAdjust="spacingAndGlyphs" transform="translate(506.8 454.8)">REF.</text>
<line x1="503" y1="447.5" x2="507" y2="447.5" stroke="#000" stroke-width="0.8"/>
<line x1="505.5" y1="445" x2="505.5" y2="449" stroke="#000" stroke-width="0.8"/>
<text x="0" y="1.86" font-size="5.2" fill="#12e612" text-anchor="middle" font-weight="bold" textLength="24" lengthAdjust="spacingAndGlyphs" transform="translate(463 440.7)">6&quot; WALL</text>
<rect x="527.5" y="479.5" width="37" height="71" fill="none" stroke="#000" stroke-width="1"/>
<line x1="527.3" y1="515.5" x2="564.6" y2="515.5" stroke="#000" stroke-width="1"/>
<line x1="527.3" y1="524.5" x2="564.6" y2="524.5" stroke="#000" stroke-width="1"/>
<line x1="527.3" y1="533.5" x2="564.6" y2="533.5" stroke="#000" stroke-width="1"/>
<line x1="527.3" y1="542.5" x2="564.6" y2="542.5" stroke="#000" stroke-width="1"/>
<line x1="139.7" y1="142.2" x2="159.8" y2="161.8" stroke="#3a3a3a" stroke-width="0.8"/>
<line x1="168.8" y1="353.2" x2="190.6" y2="330.3" stroke="#3a3a3a" stroke-width="0.8"/>
<line x1="379.8" y1="212.4" x2="361.2" y2="193.8" stroke="#3a3a3a" stroke-width="0.8"/>
<line x1="454.4" y1="212.4" x2="475.8" y2="191.2" stroke="#3a3a3a" stroke-width="0.8"/>
<line x1="314.2" y1="249.7" x2="331.9" y2="267.6" stroke="#3a3a3a" stroke-width="0.8"/>
<line x1="422.2" y1="254.5" x2="403.9" y2="271.5" stroke="#3a3a3a" stroke-width="0.8"/>
<line x1="429.8" y1="250.6" x2="447.9" y2="268.7" stroke="#3a3a3a" stroke-width="0.8"/>
<line x1="388.5" y1="98.5" x2="402.7" y2="114.9" stroke="#3a3a3a" stroke-width="0.8"/>
<line x1="432.1" y1="157.9" x2="447.4" y2="172.7" stroke="#3a3a3a" stroke-width="0.8"/>
<line x1="422.1" y1="389.3" x2="440.2" y2="407.4" stroke="#3a3a3a" stroke-width="0.8"/>
<line x1="326.6" y1="458.5" x2="346.2" y2="481.4" stroke="#3a3a3a" stroke-width="0.8"/>
<line x1="353.4" y1="518.5" x2="370.9" y2="501.7" stroke="#3a3a3a" stroke-width="0.8"/>
<line x1="524.3" y1="483.6" x2="504.6" y2="503.2" stroke="#3a3a3a" stroke-width="0.8"/>
<line x1="311.5" y1="601.7" x2="291.9" y2="581.9" stroke="#3a3a3a" stroke-width="0.8"/>
<line x1="303.4" y1="607.6" x2="286" y2="590.2" stroke="#3a3a3a" stroke-width="0.8"/>
<line x1="349.9" y1="635.3" x2="329.6" y2="655.2" stroke="#3a3a3a" stroke-width="0.8"/>
<line x1="373.1" y1="731.4" x2="396.2" y2="709.4" stroke="#3a3a3a" stroke-width="0.8"/>
<polygon points="189.3,82.2 195,87.9 189.3,93.6 183.6,87.9" fill="#fff" stroke="#111" stroke-width="0.8"/>
<text x="0" y="2.29" font-size="6.4" fill="#000" text-anchor="middle" font-weight="bold" transform="translate(189.3 88)">C</text>
<polygon points="329,81.9 334.7,87.6 329,93.3 323.3,87.6" fill="#fff" stroke="#111" stroke-width="0.8"/>
<text x="0" y="2.29" font-size="6.4" fill="#000" text-anchor="middle" font-weight="bold" transform="translate(329 87.7)">B</text>
<polygon points="508.1,81.9 513.8,87.6 508.1,93.3 502.4,87.6" fill="#fff" stroke="#111" stroke-width="0.8"/>
<text x="0" y="2.29" font-size="6.4" fill="#000" text-anchor="middle" font-weight="bold" transform="translate(508.1 87.7)">B</text>
<polygon points="142.3,150.6 148,156.3 142.3,162 136.6,156.3" fill="#fff" stroke="#111" stroke-width="0.8"/>
<text x="0" y="2.29" font-size="6.4" fill="#000" text-anchor="middle" font-weight="bold" transform="translate(142.3 156.4)">2</text>
<polygon points="185,343.8 190.7,349.5 185,355.2 179.3,349.5" fill="#fff" stroke="#111" stroke-width="0.8"/>
<text x="0" y="2.29" font-size="6.4" fill="#000" text-anchor="middle" font-weight="bold" transform="translate(185 349.6)">1</text>
<polygon points="363.8,207.3 369.5,213 363.8,218.7 358.1,213" fill="#fff" stroke="#111" stroke-width="0.8"/>
<text x="0" y="2.29" font-size="6.4" fill="#000" text-anchor="middle" font-weight="bold" transform="translate(363.8 213.1)">3</text>
<polygon points="467.1,207.8 472.8,213.5 467.1,219.2 461.4,213.5" fill="#fff" stroke="#111" stroke-width="0.8"/>
<text x="0" y="2.29" font-size="6.4" fill="#000" text-anchor="middle" font-weight="bold" transform="translate(467.1 213.6)">3</text>
<polygon points="326.5,244 332.2,249.7 326.5,255.4 320.8,249.7" fill="#fff" stroke="#111" stroke-width="0.8"/>
<text x="0" y="2.29" font-size="6.4" fill="#000" text-anchor="middle" font-weight="bold" transform="translate(326.5 249.8)">5</text>
<polygon points="417,261.3 422.7,267 417,272.7 411.3,267" fill="#fff" stroke="#111" stroke-width="0.8"/>
<text x="0" y="2.29" font-size="6.4" fill="#000" text-anchor="middle" font-weight="bold" transform="translate(417 267.1)">5</text>
<polygon points="443.6,243.4 449.3,249.1 443.6,254.8 437.9,249.1" fill="#fff" stroke="#111" stroke-width="0.8"/>
<text x="0" y="2.29" font-size="6.4" fill="#000" text-anchor="middle" font-weight="bold" transform="translate(443.6 249.2)">3</text>
<polygon points="386.1,106.6 391.8,112.3 386.1,118 380.4,112.3" fill="#fff" stroke="#111" stroke-width="0.8"/>
<text x="0" y="2.29" font-size="6.4" fill="#000" text-anchor="middle" font-weight="bold" transform="translate(386.1 112.4)">6</text>
<polygon points="448,156.1 453.7,161.8 448,167.5 442.3,161.8" fill="#fff" stroke="#111" stroke-width="0.8"/>
<text x="0" y="2.29" font-size="6.4" fill="#000" text-anchor="middle" font-weight="bold" transform="translate(448 161.9)">6</text>
<polygon points="417.4,211.7 423.1,217.4 417.4,223.1 411.7,217.4" fill="#fff" stroke="#111" stroke-width="0.8"/>
<text x="0" y="2.29" font-size="6.4" fill="#000" text-anchor="middle" font-weight="bold" transform="translate(417.4 217.5)">4</text>
<polygon points="471.9,345.5 477.6,351.2 471.9,356.9 466.2,351.2" fill="#fff" stroke="#111" stroke-width="0.8"/>
<text x="0" y="2.29" font-size="6.4" fill="#000" text-anchor="middle" font-weight="bold" transform="translate(471.9 351.3)">4</text>
<polygon points="579.9,288.7 585.6,294.4 579.9,300.1 574.2,294.4" fill="#fff" stroke="#111" stroke-width="0.8"/>
<text x="0" y="2.29" font-size="6.4" fill="#000" text-anchor="middle" font-weight="bold" transform="translate(579.9 294.5)">B</text>
<polygon points="207,455.7 212.7,461.4 207,467.1 201.3,461.4" fill="#fff" stroke="#111" stroke-width="0.8"/>
<text x="0" y="2.29" font-size="6.4" fill="#000" text-anchor="middle" font-weight="bold" transform="translate(207 461.5)">B</text>
<polygon points="207.4,575.3 213.1,581 207.4,586.7 201.7,581" fill="#fff" stroke="#111" stroke-width="0.8"/>
<text x="0" y="2.29" font-size="6.4" fill="#000" text-anchor="middle" font-weight="bold" transform="translate(207.4 581.1)">B</text>
<polygon points="389,379.9 394.7,385.6 389,391.3 383.3,385.6" fill="#fff" stroke="#111" stroke-width="0.8"/>
<text x="0" y="2.29" font-size="6.4" fill="#000" text-anchor="middle" font-weight="bold" transform="translate(389 385.7)">7</text>
<polygon points="422.6,396.7 428.3,402.4 422.6,408.1 416.9,402.4" fill="#fff" stroke="#111" stroke-width="0.8"/>
<text x="0" y="2.29" font-size="6.4" fill="#000" text-anchor="middle" font-weight="bold" transform="translate(422.6 402.5)">5</text>
<polygon points="331.6,478.6 337.3,484.3 331.6,490 325.9,484.3" fill="#fff" stroke="#111" stroke-width="0.8"/>
<text x="0" y="2.29" font-size="6.4" fill="#000" text-anchor="middle" font-weight="bold" transform="translate(331.6 484.4)">3</text>
<polygon points="351.7,501.3 357.4,507 351.7,512.7 346,507" fill="#fff" stroke="#111" stroke-width="0.8"/>
<text x="0" y="2.29" font-size="6.4" fill="#000" text-anchor="middle" font-weight="bold" transform="translate(351.7 507.1)">5</text>
<polygon points="345.1,549.5 350.8,555.2 345.1,560.9 339.4,555.2" fill="#fff" stroke="#111" stroke-width="0.8"/>
<text x="0" y="2.29" font-size="6.4" fill="#000" text-anchor="middle" font-weight="bold" transform="translate(345.1 555.3)">4</text>
<polygon points="411.7,551.4 417.4,557.1 411.7,562.8 406,557.1" fill="#fff" stroke="#111" stroke-width="0.8"/>
<text x="0" y="2.29" font-size="6.4" fill="#000" text-anchor="middle" font-weight="bold" transform="translate(411.7 557.2)">8</text>
<polygon points="521.9,491.7 527.6,497.4 521.9,503.1 516.2,497.4" fill="#fff" stroke="#111" stroke-width="0.8"/>
<text x="0" y="2.29" font-size="6.4" fill="#000" text-anchor="middle" font-weight="bold" transform="translate(521.9 497.5)">2</text>
<polygon points="533.9,594 539.6,599.7 533.9,605.4 528.2,599.7" fill="#fff" stroke="#111" stroke-width="0.8"/>
<text x="0" y="2.29" font-size="6.4" fill="#000" text-anchor="middle" font-weight="bold" transform="translate(533.9 599.8)">B</text>
<polygon points="310.6,582.3 316.3,588 310.6,593.7 304.9,588" fill="#fff" stroke="#111" stroke-width="0.8"/>
<text x="0" y="2.29" font-size="6.4" fill="#000" text-anchor="middle" font-weight="bold" transform="translate(310.6 588.1)">3</text>
<polygon points="291,605.8 296.7,611.5 291,617.2 285.3,611.5" fill="#fff" stroke="#111" stroke-width="0.8"/>
<text x="0" y="2.29" font-size="6.4" fill="#000" text-anchor="middle" font-weight="bold" transform="translate(291 611.6)">5</text>
<polygon points="241.7,629.8 247.4,635.5 241.7,641.2 236,635.5" fill="#fff" stroke="#111" stroke-width="0.8"/>
<text x="0" y="2.29" font-size="6.4" fill="#000" text-anchor="middle" font-weight="bold" transform="translate(241.7 635.6)">7</text>
<polygon points="332.4,628.1 338.1,633.8 332.4,639.5 326.7,633.8" fill="#fff" stroke="#111" stroke-width="0.8"/>
<text x="0" y="2.29" font-size="6.4" fill="#000" text-anchor="middle" font-weight="bold" transform="translate(332.4 633.9)">3</text>
<polygon points="268.3,760.9 274,766.6 268.3,772.3 262.6,766.6" fill="#fff" stroke="#111" stroke-width="0.8"/>
<text x="0" y="2.29" font-size="6.4" fill="#000" text-anchor="middle" font-weight="bold" transform="translate(268.3 766.7)">A</text>
<polygon points="390.2,723.7 395.9,729.4 390.2,735.1 384.5,729.4" fill="#fff" stroke="#111" stroke-width="0.8"/>
<text x="0" y="2.29" font-size="6.4" fill="#000" text-anchor="middle" font-weight="bold" transform="translate(390.2 729.5)">1</text>
<polygon points="479.5,735.8 485.2,741.5 479.5,747.2 473.8,741.5" fill="#fff" stroke="#111" stroke-width="0.8"/>
<text x="0" y="2.29" font-size="6.4" fill="#000" text-anchor="middle" font-weight="bold" transform="translate(479.5 741.6)">A</text>
<text x="0" y="2.36" font-size="6.6" fill="#05051c" text-anchor="middle" font-weight="bold" textLength="29.7" lengthAdjust="spacingAndGlyphs" transform="translate(211 146.5)">KITCHEN</text>
<line x1="195.85" y1="150.5" x2="226.15" y2="150.5" stroke="#111" stroke-width="0.8"/>
<text x="0" y="2.36" font-size="6.6" fill="#111" text-anchor="middle" font-weight="bold" textLength="25" lengthAdjust="spacingAndGlyphs" transform="translate(211 154.6)">10' CLG.</text>
<text x="0" y="2.36" font-size="6.6" fill="#05051c" text-anchor="middle" font-weight="bold" textLength="40" lengthAdjust="spacingAndGlyphs" transform="translate(325.7 147.6)">BEDROOM-3</text>
<line x1="305.4" y1="151.5" x2="346" y2="151.5" stroke="#111" stroke-width="0.8"/>
<text x="0" y="2.36" font-size="6.6" fill="#111" text-anchor="middle" font-weight="bold" textLength="25" lengthAdjust="spacingAndGlyphs" transform="translate(325.7 155.7)">10' CLG.</text>
<text x="0" y="2.36" font-size="6.6" fill="#05051c" text-anchor="middle" font-weight="bold" textLength="40" lengthAdjust="spacingAndGlyphs" transform="translate(513.5 148.7)">BEDROOM-2</text>
<line x1="493.2" y1="152.5" x2="533.8" y2="152.5" stroke="#111" stroke-width="0.8"/>
<text x="0" y="2.36" font-size="6.6" fill="#111" text-anchor="middle" font-weight="bold" textLength="25" lengthAdjust="spacingAndGlyphs" transform="translate(513.5 156.8)">10' CLG.</text>
<text x="0" y="2.36" font-size="6.6" fill="#05051c" text-anchor="middle" font-weight="bold" textLength="44" lengthAdjust="spacingAndGlyphs" transform="translate(224.9 242.5)">LIVING ROOM</text>
<line x1="202.6" y1="246.5" x2="247.2" y2="246.5" stroke="#111" stroke-width="0.8"/>
<text x="0" y="2.36" font-size="6.6" fill="#111" text-anchor="middle" font-weight="bold" textLength="25" lengthAdjust="spacingAndGlyphs" transform="translate(224.9 250.6)">10' CLG.</text>
<text x="0" y="2.36" font-size="6.6" fill="#05051c" text-anchor="middle" font-weight="bold" textLength="40" lengthAdjust="spacingAndGlyphs" transform="translate(513.3 292.7)">BEDROOM-1</text>
<line x1="493" y1="296.5" x2="533.6" y2="296.5" stroke="#111" stroke-width="0.8"/>
<text x="0" y="2.36" font-size="6.6" fill="#111" text-anchor="middle" font-weight="bold" textLength="25" lengthAdjust="spacingAndGlyphs" transform="translate(513.3 300.8)">10' CLG.</text>
<text x="0" y="2.36" font-size="6.6" fill="#05051c" text-anchor="middle" font-weight="bold" textLength="23" lengthAdjust="spacingAndGlyphs" transform="translate(404.8 279.6)">BATH-1</text>
<line x1="393" y1="283.5" x2="416.6" y2="283.5" stroke="#111" stroke-width="0.8"/>
<text x="0" y="2.36" font-size="6.6" fill="#05051c" text-anchor="middle" font-weight="bold" textLength="23" lengthAdjust="spacingAndGlyphs" transform="translate(326.9 300.3)">BATH-2</text>
<line x1="315.1" y1="304.5" x2="338.7" y2="304.5" stroke="#111" stroke-width="0.8"/>
<text x="0" y="2.36" font-size="6.6" fill="#05051c" text-anchor="middle" font-weight="bold" textLength="26" lengthAdjust="spacingAndGlyphs" transform="translate(415.8 106.4)">CLOSET</text>
<line x1="402.5" y1="110.5" x2="429.1" y2="110.5" stroke="#111" stroke-width="0.8"/>
<text x="0" y="2.36" font-size="6.6" fill="#05051c" text-anchor="middle" font-weight="bold" textLength="26" lengthAdjust="spacingAndGlyphs" transform="translate(419.7 165.3)">CLOSET</text>
<line x1="406.4" y1="169.5" x2="433" y2="169.5" stroke="#111" stroke-width="0.8"/>
<text x="0" y="2.36" font-size="6.6" fill="#05051c" text-anchor="middle" font-weight="bold" textLength="26" lengthAdjust="spacingAndGlyphs" transform="translate(470.6 362.6)">CLOSET</text>
<line x1="457.3" y1="366.5" x2="483.9" y2="366.5" stroke="#111" stroke-width="0.8"/>
<text x="0" y="2.36" font-size="6.6" fill="#05051c" text-anchor="middle" font-weight="bold" textLength="26" lengthAdjust="spacingAndGlyphs" transform="translate(388.3 373.6)">CLOSET</text>
<line x1="375" y1="377.5" x2="401.6" y2="377.5" stroke="#111" stroke-width="0.8"/>
<text x="0" y="2.36" font-size="6.6" fill="#05051c" text-anchor="middle" font-weight="bold" textLength="26" lengthAdjust="spacingAndGlyphs" transform="translate(242.8 625.5)">CLOSET</text>
<line x1="229.5" y1="629.5" x2="256.1" y2="629.5" stroke="#111" stroke-width="0.8"/>
<text x="0" y="2.36" font-size="6.6" fill="#05051c" text-anchor="middle" font-weight="bold" textLength="24.2" lengthAdjust="spacingAndGlyphs" transform="translate(172.3 373.7)">PORCH</text>
<line x1="159.9" y1="377.5" x2="184.7" y2="377.5" stroke="#111" stroke-width="0.8"/>
<text x="0" y="2.36" font-size="6.6" fill="#111" text-anchor="middle" font-weight="bold" textLength="25" lengthAdjust="spacingAndGlyphs" transform="translate(172.3 381.7)">10' CLG.</text>
<text x="0" y="2.36" font-size="6.6" fill="#05051c" text-anchor="middle" font-weight="bold" textLength="24.3" lengthAdjust="spacingAndGlyphs" transform="translate(373.4 749.6)">PORCH</text>
<line x1="360.95" y1="753.5" x2="385.85" y2="753.5" stroke="#111" stroke-width="0.8"/>
<text x="0" y="2.36" font-size="6.6" fill="#111" text-anchor="middle" font-weight="bold" textLength="25" lengthAdjust="spacingAndGlyphs" transform="translate(373.4 757.6)">10' CLG.</text>
<text x="0" y="2.36" font-size="6.6" fill="#05051c" text-anchor="middle" font-weight="bold" textLength="40" lengthAdjust="spacingAndGlyphs" transform="translate(275.7 420.4)">BEDROOM-1</text>
<line x1="255.4" y1="424.5" x2="296" y2="424.5" stroke="#111" stroke-width="0.8"/>
<text x="0" y="2.36" font-size="6.6" fill="#111" text-anchor="middle" font-weight="bold" textLength="25" lengthAdjust="spacingAndGlyphs" transform="translate(275.7 428.5)">10' CLG.</text>
<text x="0" y="2.36" font-size="6.6" fill="#05051c" text-anchor="middle" font-weight="bold" textLength="40" lengthAdjust="spacingAndGlyphs" transform="translate(263 512.7)">BEDROOM-2</text>
<line x1="242.7" y1="516.5" x2="283.3" y2="516.5" stroke="#111" stroke-width="0.8"/>
<text x="0" y="2.36" font-size="6.6" fill="#111" text-anchor="middle" font-weight="bold" textLength="25" lengthAdjust="spacingAndGlyphs" transform="translate(263 520.8)">10' CLG.</text>
<text x="0" y="2.36" font-size="6.6" fill="#05051c" text-anchor="middle" font-weight="bold" textLength="40" lengthAdjust="spacingAndGlyphs" transform="translate(286.6 690.6)">BEDROOM-3</text>
<line x1="266.3" y1="694.5" x2="306.9" y2="694.5" stroke="#111" stroke-width="0.8"/>
<text x="0" y="2.36" font-size="6.6" fill="#111" text-anchor="middle" font-weight="bold" textLength="25" lengthAdjust="spacingAndGlyphs" transform="translate(286.6 698.3)">10' CLG.</text>
<text x="0" y="2.36" font-size="6.6" fill="#05051c" text-anchor="middle" font-weight="bold" textLength="44" lengthAdjust="spacingAndGlyphs" transform="translate(436.8 642.6)">LIVING ROOM</text>
<line x1="414.5" y1="646.5" x2="459.1" y2="646.5" stroke="#111" stroke-width="0.8"/>
<text x="0" y="2.36" font-size="6.6" fill="#111" text-anchor="middle" font-weight="bold" textLength="25" lengthAdjust="spacingAndGlyphs" transform="translate(436.8 650.7)">10' CLG.</text>
<text x="0" y="2.36" font-size="6.6" fill="#05051c" text-anchor="middle" font-weight="bold" textLength="29.7" lengthAdjust="spacingAndGlyphs" transform="translate(475.6 483.6)">KITCHEN</text>
<line x1="460.45" y1="487.5" x2="490.75" y2="487.5" stroke="#111" stroke-width="0.8"/>
<text x="0" y="2.36" font-size="6.6" fill="#111" text-anchor="middle" font-weight="bold" textLength="25" lengthAdjust="spacingAndGlyphs" transform="translate(475.6 491.9)">10' CLG.</text>
<text x="0" y="2.36" font-size="6.6" fill="#05051c" text-anchor="middle" font-weight="bold" textLength="23" lengthAdjust="spacingAndGlyphs" transform="translate(465.3 398.6)">BATH-1</text>
<line x1="453.5" y1="402.5" x2="477.1" y2="402.5" stroke="#111" stroke-width="0.8"/>
<text x="0" y="2.36" font-size="6.6" fill="#05051c" text-anchor="middle" font-weight="bold" textLength="23" lengthAdjust="spacingAndGlyphs" transform="translate(372 487.5)">BATH-2</text>
<line x1="360.2" y1="491.5" x2="383.8" y2="491.5" stroke="#111" stroke-width="0.8"/>
<g transform="translate(197.5 190.5) rotate(0)">
<line x1="-19.3" y1="-9" x2="19.3" y2="-9" stroke="#000" stroke-width="0.9" stroke-dasharray="5.2 1.3"/>
<line x1="-19.3" y1="-7" x2="19.3" y2="-7" stroke="#000" stroke-width="0.9" stroke-dasharray="5.2 1.3"/>
<line x1="-19.3" y1="6" x2="19.3" y2="6" stroke="#000" stroke-width="0.9" stroke-dasharray="5.2 1.3"/>
<line x1="-19.3" y1="8" x2="19.3" y2="8" stroke="#000" stroke-width="0.9" stroke-dasharray="5.2 1.3"/>
<text x="0.6" y="-1.9" font-size="4.9" fill="#111" text-anchor="middle" textLength="28" lengthAdjust="spacingAndGlyphs">2"X8" CLG</text>
<text x="0.6" y="4.1" font-size="4.9" fill="#111" text-anchor="middle" textLength="30" lengthAdjust="spacingAndGlyphs">JST 16"o.c.</text>
</g>
<g transform="translate(327.5 178.5) rotate(0)">
<line x1="-19.3" y1="-9" x2="19.3" y2="-9" stroke="#000" stroke-width="0.9" stroke-dasharray="5.2 1.3"/>
<line x1="-19.3" y1="-7" x2="19.3" y2="-7" stroke="#000" stroke-width="0.9" stroke-dasharray="5.2 1.3"/>
<line x1="-19.3" y1="6" x2="19.3" y2="6" stroke="#000" stroke-width="0.9" stroke-dasharray="5.2 1.3"/>
<line x1="-19.3" y1="8" x2="19.3" y2="8" stroke="#000" stroke-width="0.9" stroke-dasharray="5.2 1.3"/>
<text x="0.6" y="-1.9" font-size="4.9" fill="#111" text-anchor="middle" textLength="28" lengthAdjust="spacingAndGlyphs">2"X8" CLG</text>
<text x="0.6" y="4.1" font-size="4.9" fill="#111" text-anchor="middle" textLength="30" lengthAdjust="spacingAndGlyphs">JST 16"o.c.</text>
</g>
<g transform="translate(507.5 178.5) rotate(0)">
<line x1="-19.3" y1="-9" x2="19.3" y2="-9" stroke="#000" stroke-width="0.9" stroke-dasharray="5.2 1.3"/>
<line x1="-19.3" y1="-7" x2="19.3" y2="-7" stroke="#000" stroke-width="0.9" stroke-dasharray="5.2 1.3"/>
<line x1="-19.3" y1="6" x2="19.3" y2="6" stroke="#000" stroke-width="0.9" stroke-dasharray="5.2 1.3"/>
<line x1="-19.3" y1="8" x2="19.3" y2="8" stroke="#000" stroke-width="0.9" stroke-dasharray="5.2 1.3"/>
<text x="0.6" y="-1.9" font-size="4.9" fill="#111" text-anchor="middle" textLength="28" lengthAdjust="spacingAndGlyphs">2"X8" CLG</text>
<text x="0.6" y="4.1" font-size="4.9" fill="#111" text-anchor="middle" textLength="30" lengthAdjust="spacingAndGlyphs">JST 16"o.c.</text>
</g>
<g transform="translate(225.5 282.5) rotate(0)">
<line x1="-19.3" y1="-8.5" x2="19.3" y2="-8.5" stroke="#000" stroke-width="2" stroke-dasharray="5.2 1.3"/>
<line x1="-19.3" y1="6" x2="19.3" y2="6" stroke="#000" stroke-width="0.9" stroke-dasharray="5.2 1.3"/>
<line x1="-19.3" y1="8" x2="19.3" y2="8" stroke="#000" stroke-width="0.9" stroke-dasharray="5.2 1.3"/>
<text x="0.6" y="-1.9" font-size="4.9" fill="#111" text-anchor="middle" textLength="28" lengthAdjust="spacingAndGlyphs">2"X8" CLG</text>
<text x="0.6" y="4.1" font-size="4.9" fill="#111" text-anchor="middle" textLength="30" lengthAdjust="spacingAndGlyphs">JST 16"o.c.</text>
</g>
<g transform="translate(518.5 243.5) rotate(0)">
<line x1="-19.3" y1="-9" x2="19.3" y2="-9" stroke="#000" stroke-width="0.9" stroke-dasharray="5.2 1.3"/>
<line x1="-19.3" y1="-7" x2="19.3" y2="-7" stroke="#000" stroke-width="0.9" stroke-dasharray="5.2 1.3"/>
<line x1="-19.3" y1="6.5" x2="19.3" y2="6.5" stroke="#000" stroke-width="2" stroke-dasharray="5.2 1.3"/>
<text x="0.6" y="-1.9" font-size="4.9" fill="#111" text-anchor="middle" textLength="28" lengthAdjust="spacingAndGlyphs">2"X8" CLG</text>
<text x="0.6" y="4.1" font-size="4.9" fill="#111" text-anchor="middle" textLength="30" lengthAdjust="spacingAndGlyphs">JST 16"o.c.</text>
</g>
<g transform="translate(274.5 383.5) rotate(0)">
<line x1="-19.3" y1="-9" x2="19.3" y2="-9" stroke="#000" stroke-width="0.9" stroke-dasharray="5.2 1.3"/>
<line x1="-19.3" y1="-7" x2="19.3" y2="-7" stroke="#000" stroke-width="0.9" stroke-dasharray="5.2 1.3"/>
<line x1="-19.3" y1="6" x2="19.3" y2="6" stroke="#000" stroke-width="0.9" stroke-dasharray="5.2 1.3"/>
<line x1="-19.3" y1="8" x2="19.3" y2="8" stroke="#000" stroke-width="0.9" stroke-dasharray="5.2 1.3"/>
<text x="0.6" y="-1.9" font-size="4.9" fill="#111" text-anchor="middle" textLength="28" lengthAdjust="spacingAndGlyphs">2"X8" CLG</text>
<text x="0.6" y="4.1" font-size="4.9" fill="#111" text-anchor="middle" textLength="30" lengthAdjust="spacingAndGlyphs">JST 16"o.c.</text>
</g>
<g transform="translate(264.5 571.5) rotate(0)">
<line x1="-19.3" y1="-9" x2="19.3" y2="-9" stroke="#000" stroke-width="0.9" stroke-dasharray="5.2 1.3"/>
<line x1="-19.3" y1="-7" x2="19.3" y2="-7" stroke="#000" stroke-width="0.9" stroke-dasharray="5.2 1.3"/>
<line x1="-19.3" y1="6" x2="19.3" y2="6" stroke="#000" stroke-width="0.9" stroke-dasharray="5.2 1.3"/>
<line x1="-19.3" y1="8" x2="19.3" y2="8" stroke="#000" stroke-width="0.9" stroke-dasharray="5.2 1.3"/>
<text x="0.6" y="-1.9" font-size="4.9" fill="#111" text-anchor="middle" textLength="28" lengthAdjust="spacingAndGlyphs">2"X8" CLG</text>
<text x="0.6" y="4.1" font-size="4.9" fill="#111" text-anchor="middle" textLength="30" lengthAdjust="spacingAndGlyphs">JST 16"o.c.</text>
</g>
<g transform="translate(284.5 721.5) rotate(0)">
<line x1="-19.3" y1="-9" x2="19.3" y2="-9" stroke="#000" stroke-width="0.9" stroke-dasharray="5.2 1.3"/>
<line x1="-19.3" y1="-7" x2="19.3" y2="-7" stroke="#000" stroke-width="0.9" stroke-dasharray="5.2 1.3"/>
<line x1="-19.3" y1="6.5" x2="19.3" y2="6.5" stroke="#000" stroke-width="2" stroke-dasharray="5.2 1.3"/>
<text x="0.6" y="-1.9" font-size="4.9" fill="#111" text-anchor="middle" textLength="28" lengthAdjust="spacingAndGlyphs">2"X8" CLG</text>
<text x="0.6" y="4.1" font-size="4.9" fill="#111" text-anchor="middle" textLength="30" lengthAdjust="spacingAndGlyphs">JST 16"o.c.</text>
</g>
<g transform="translate(437.5 675.5) rotate(0)">
<line x1="-19.3" y1="-9" x2="19.3" y2="-9" stroke="#000" stroke-width="0.9" stroke-dasharray="5.2 1.3"/>
<line x1="-19.3" y1="-7" x2="19.3" y2="-7" stroke="#000" stroke-width="0.9" stroke-dasharray="5.2 1.3"/>
<line x1="-19.3" y1="6" x2="19.3" y2="6" stroke="#000" stroke-width="0.9" stroke-dasharray="5.2 1.3"/>
<line x1="-19.3" y1="8" x2="19.3" y2="8" stroke="#000" stroke-width="0.9" stroke-dasharray="5.2 1.3"/>
<text x="0.6" y="-1.9" font-size="4.9" fill="#111" text-anchor="middle" textLength="28" lengthAdjust="spacingAndGlyphs">2"X8" CLG</text>
<text x="0.6" y="4.1" font-size="4.9" fill="#111" text-anchor="middle" textLength="30" lengthAdjust="spacingAndGlyphs">JST 16"o.c.</text>
</g>
<text x="0" y="1.86" font-size="5.2" fill="#222" text-anchor="middle" textLength="57" lengthAdjust="spacingAndGlyphs" transform="translate(232.5 338.2)">2&quot;X4&quot; STAGGERED STUD</text>
<text x="0" y="1.86" font-size="5.2" fill="#111" text-anchor="middle" font-weight="bold" textLength="41" lengthAdjust="spacingAndGlyphs" transform="translate(231.4 343.8)">FIRE RATED WALL</text>
<polyline points="253.2,343.5 267.4,343.5 274,353.2" fill="none" stroke="#ff5050" stroke-width="0.7"/>
<text x="0" y="1.72" font-size="4.8" fill="#222" text-anchor="middle" textLength="72" lengthAdjust="spacingAndGlyphs" transform="translate(109.2 406.6)">2–2&quot;X12&quot; EXPOSED BEAM</text>
<polyline points="145.4,405.5 159.6,405.5 165.7,395" fill="none" stroke="#ff3030" stroke-width="0.7"/>
<text x="0" y="1.72" font-size="4.8" fill="#222" text-anchor="middle" textLength="72" lengthAdjust="spacingAndGlyphs" transform="translate(485.6 771.6)">2–2&quot;X12&quot; EXPOSED BEAM</text>
<polyline points="449.4,771.5 435.1,771.5 429.4,760.8" fill="none" stroke="#ff3030" stroke-width="0.7"/>
<rect x="776.5" y="626.5" width="122" height="121" fill="none" stroke="#000" stroke-width="1"/>
<line x1="776.4" y1="658.5" x2="898.7" y2="658.5" stroke="#000" stroke-width="1"/>
<line x1="776.4" y1="677.5" x2="898.7" y2="677.5" stroke="#000" stroke-width="1"/>
<line x1="776.4" y1="696.5" x2="898.7" y2="696.5" stroke="#000" stroke-width="1"/>
<line x1="776.4" y1="715.5" x2="898.7" y2="715.5" stroke="#000" stroke-width="1"/>
<line x1="776.4" y1="734.5" x2="898.7" y2="734.5" stroke="#000" stroke-width="1"/>
<line x1="837.5" y1="658.4" x2="837.5" y2="747.4" stroke="#000" stroke-width="1"/>
<text x="0" y="6.01" font-size="16.8" fill="#6a6a6a" text-anchor="middle" textLength="60.4" lengthAdjust="spacingAndGlyphs" transform="translate(837.3 634)">SQUARE</text>
<text x="0" y="6.01" font-size="16.8" fill="#3a3a3a" text-anchor="middle" textLength="71.9" lengthAdjust="spacingAndGlyphs" transform="translate(837.1 650.8)">FOOTAGE</text>
<text x="0" y="2.72" font-size="7.6" fill="#1a1a1a" text-anchor="middle" textLength="50" lengthAdjust="spacingAndGlyphs" transform="translate(806.5 664)">FRONT UNIT</text>
<text x="0" y="2.72" font-size="7.6" fill="#1a1a1a" text-anchor="middle" textLength="29.5" lengthAdjust="spacingAndGlyphs" transform="translate(807.2 673)">LIVING</text>
<text x="0" y="2.72" font-size="7.6" fill="#1a1a1a" text-anchor="middle" textLength="44.4" lengthAdjust="spacingAndGlyphs" transform="translate(806.9 683.1)">REAR UNIT</text>
<text x="0" y="2.72" font-size="7.6" fill="#1a1a1a" text-anchor="middle" textLength="29.5" lengthAdjust="spacingAndGlyphs" transform="translate(807.2 691.6)">LIVING</text>
<text x="0" y="2.72" font-size="7.6" fill="#1a1a1a" text-anchor="middle" textLength="56.7" lengthAdjust="spacingAndGlyphs" transform="translate(807.2 702)">FRONT PORCH</text>
<text x="0" y="2.72" font-size="7.6" fill="#1a1a1a" text-anchor="middle" textLength="52.2" lengthAdjust="spacingAndGlyphs" transform="translate(807 721)">REAR PORCH</text>
<text x="0" y="2.72" font-size="7.6" fill="#1a1a1a" text-anchor="middle" textLength="25.6" lengthAdjust="spacingAndGlyphs" transform="translate(807.1 739.5)">TOTAL</text>
<text x="0" y="3.01" font-size="8.4" fill="#555" text-anchor="middle" textLength="17.6" lengthAdjust="spacingAndGlyphs" transform="translate(867.5 668.3)">1098</text>
<text x="0" y="3.01" font-size="8.4" fill="#555" text-anchor="middle" textLength="17.6" lengthAdjust="spacingAndGlyphs" transform="translate(867.5 687.1)">1090</text>
<text x="0" y="3.01" font-size="8.4" fill="#555" text-anchor="middle" textLength="8.8" lengthAdjust="spacingAndGlyphs" transform="translate(867.9 706.3)">30</text>
<text x="0" y="3.01" font-size="8.4" fill="#555" text-anchor="middle" textLength="8.8" lengthAdjust="spacingAndGlyphs" transform="translate(867.9 725.2)">30</text>
<text x="0" y="3.01" font-size="8.4" fill="#555" text-anchor="middle" textLength="20.3" lengthAdjust="spacingAndGlyphs" transform="translate(867.7 739.5)">2248</text>
<line x1="136.5" y1="18.6" x2="136.5" y2="90.5" stroke="#ff0000" stroke-width="1"/>
<line x1="573.5" y1="18.6" x2="573.5" y2="90.5" stroke="#ff0000" stroke-width="1"/>
<line x1="136.2" y1="21.5" x2="573.5" y2="21.5" stroke="#ff0000" stroke-width="1"/>
<polygon points="136.2,21.5 141.4,20.6 141.4,22.4" fill="#ff3a3a" stroke="#ff3a3a" stroke-width="0.5"/>
<polygon points="573.5,21.5 568.3,20.6 568.3,22.4" fill="#ff3a3a" stroke="#ff3a3a" stroke-width="0.5"/>
<text x="0" y="3.65" font-size="10.2" fill="#505050" text-anchor="middle" textLength="32.14" lengthAdjust="spacingAndGlyphs" transform="translate(355.8 14.7)">42'–0&quot;</text>
<line x1="136.2" y1="58.5" x2="573.5" y2="58.5" stroke="#ff0000" stroke-width="1"/>
<line x1="261.5" y1="55" x2="261.5" y2="94" stroke="#ff0000" stroke-width="1"/>
<line x1="386.5" y1="55" x2="386.5" y2="94" stroke="#ff0000" stroke-width="1"/>
<line x1="448.5" y1="55" x2="448.5" y2="94" stroke="#ff0000" stroke-width="1"/>
<polygon points="136.2,58.5 141.4,57.6 141.4,59.4" fill="#ff3a3a" stroke="#ff3a3a" stroke-width="0.5"/>
<polygon points="261.6,58.5 256.4,57.6 256.4,59.4" fill="#ff3a3a" stroke="#ff3a3a" stroke-width="0.5"/>
<polygon points="261.6,58.5 266.8,57.6 266.8,59.4" fill="#ff3a3a" stroke="#ff3a3a" stroke-width="0.5"/>
<polygon points="386.9,58.5 381.7,57.6 381.7,59.4" fill="#ff3a3a" stroke="#ff3a3a" stroke-width="0.5"/>
<polygon points="386.9,58.5 392.1,57.6 392.1,59.4" fill="#ff3a3a" stroke="#ff3a3a" stroke-width="0.5"/>
<polygon points="448.7,58.5 443.5,57.6 443.5,59.4" fill="#ff3a3a" stroke="#ff3a3a" stroke-width="0.5"/>
<polygon points="448.7,58.5 453.9,57.6 453.9,59.4" fill="#ff3a3a" stroke="#ff3a3a" stroke-width="0.5"/>
<polygon points="573.5,58.5 568.3,57.6 568.3,59.4" fill="#ff3a3a" stroke="#ff3a3a" stroke-width="0.5"/>
<text x="0" y="3.65" font-size="10.2" fill="#505050" text-anchor="middle" textLength="32.14" lengthAdjust="spacingAndGlyphs" transform="translate(198.8 52.1)">12'–0&quot;</text>
<text x="0" y="3.65" font-size="10.2" fill="#505050" text-anchor="middle" textLength="32.14" lengthAdjust="spacingAndGlyphs" transform="translate(323.7 52.1)">12'–0&quot;</text>
<text x="0" y="3.65" font-size="10.2" fill="#505050" text-anchor="middle" textLength="26.07" lengthAdjust="spacingAndGlyphs" transform="translate(417.5 52.1)">6'–0&quot;</text>
<text x="0" y="3.65" font-size="10.2" fill="#505050" text-anchor="middle" textLength="32.14" lengthAdjust="spacingAndGlyphs" transform="translate(511.3 52.1)">12'–0&quot;</text>
<line x1="136.2" y1="72.5" x2="189.3" y2="72.5" stroke="#ff0000" stroke-width="1"/>
<polygon points="136.2,72.5 141.4,71.6 141.4,73.4" fill="#ff3a3a" stroke="#ff3a3a" stroke-width="0.5"/>
<polygon points="189.3,72.5 184.1,71.6 184.1,73.4" fill="#ff3a3a" stroke="#ff3a3a" stroke-width="0.5"/>
<line x1="189.5" y1="69" x2="189.5" y2="78.4" stroke="#ff0000" stroke-width="1"/>
<text x="0" y="3.65" font-size="10.2" fill="#505050" text-anchor="middle" textLength="26.07" lengthAdjust="spacingAndGlyphs" transform="translate(163 65.8)">5'–1&quot;</text>
<line x1="329.7" y1="75.5" x2="386.9" y2="75.5" stroke="#ff0000" stroke-width="1"/>
<polygon points="329.7,75.5 334.9,74.6 334.9,76.4" fill="#ff3a3a" stroke="#ff3a3a" stroke-width="0.5"/>
<polygon points="386.9,75.5 381.7,74.6 381.7,76.4" fill="#ff3a3a" stroke="#ff3a3a" stroke-width="0.5"/>
<line x1="329.5" y1="71" x2="329.5" y2="79.4" stroke="#ff0000" stroke-width="1"/>
<text x="0" y="3.65" font-size="10.2" fill="#505050" text-anchor="middle" textLength="26.07" lengthAdjust="spacingAndGlyphs" transform="translate(357.5 68.7)">5'–6&quot;</text>
<line x1="508.6" y1="75.5" x2="573.5" y2="75.5" stroke="#ff0000" stroke-width="1"/>
<polygon points="508.6,75.5 513.8,74.6 513.8,76.4" fill="#ff3a3a" stroke="#ff3a3a" stroke-width="0.5"/>
<polygon points="573.5,75.5 568.3,74.6 568.3,76.4" fill="#ff3a3a" stroke="#ff3a3a" stroke-width="0.5"/>
<line x1="508.5" y1="71" x2="508.5" y2="79.4" stroke="#ff0000" stroke-width="1"/>
<text x="0" y="3.65" font-size="10.2" fill="#505050" text-anchor="middle" textLength="26.07" lengthAdjust="spacingAndGlyphs" transform="translate(540.7 68.7)">6'–4&quot;</text>
<line x1="32" y1="93.5" x2="133.6" y2="93.5" stroke="#ff0000" stroke-width="1"/>
<line x1="35.5" y1="93.5" x2="35.5" y2="776.6" stroke="#ff0000" stroke-width="1"/>
<polygon points="35.5,93.5 34.6,98.7 36.4,98.7" fill="#ff3a3a" stroke="#ff3a3a" stroke-width="0.5"/>
<polygon points="35.5,776.6 34.6,771.4 36.4,771.4" fill="#ff3a3a" stroke="#ff3a3a" stroke-width="0.5"/>
<text x="0" y="3.65" font-size="10.2" fill="#505050" text-anchor="middle" textLength="32.14" lengthAdjust="spacingAndGlyphs" transform="translate(30.2 434.7) rotate(-90)">65'–7&quot;</text>
<line x1="65.5" y1="93.5" x2="65.5" y2="760.4" stroke="#ff0000" stroke-width="1"/>
<polygon points="65.5,93.5 64.6,98.7 66.4,98.7" fill="#ff3a3a" stroke="#ff3a3a" stroke-width="0.5"/>
<polygon points="65.5,760.4 64.6,755.2 66.4,755.2" fill="#ff3a3a" stroke="#ff3a3a" stroke-width="0.5"/>
<line x1="65.5" y1="760.4" x2="65.5" y2="788.2" stroke="#ff0000" stroke-width="1"/>
<polygon points="65.5,776.6 64.6,781.8 66.4,781.8" fill="#ff3a3a" stroke="#ff3a3a" stroke-width="0.5"/>
<text x="0" y="3.65" font-size="10.2" fill="#505050" text-anchor="middle" textLength="32.14" lengthAdjust="spacingAndGlyphs" transform="translate(60.3 427) rotate(-90)">64'–0&quot;</text>
<text x="0" y="3.65" font-size="10.2" fill="#505050" text-anchor="middle" textLength="26.07" lengthAdjust="spacingAndGlyphs" transform="translate(59.6 768.8) rotate(-90)">1'–7&quot;</text>
<line x1="86.5" y1="93.5" x2="86.5" y2="355.5" stroke="#ff0000" stroke-width="1"/>
<polygon points="86.5,93.5 85.6,98.7 87.4,98.7" fill="#ff3a3a" stroke="#ff3a3a" stroke-width="0.5"/>
<polygon points="86.5,355.5 85.6,350.3 87.4,350.3" fill="#ff3a3a" stroke="#ff3a3a" stroke-width="0.5"/>
<line x1="86.5" y1="355.5" x2="86.5" y2="397.2" stroke="#ff0000" stroke-width="1"/>
<polygon points="86.5,355.5 85.6,360.7 87.4,360.7" fill="#ff3a3a" stroke="#ff3a3a" stroke-width="0.5"/>
<polygon points="86.5,397.2 85.6,392 87.4,392" fill="#ff3a3a" stroke="#ff3a3a" stroke-width="0.5"/>
<text x="0" y="3.65" font-size="10.2" fill="#505050" text-anchor="middle" textLength="32.14" lengthAdjust="spacingAndGlyphs" transform="translate(80.5 226.5) rotate(-90)">25'–2&quot;</text>
<text x="0" y="3.65" font-size="10.2" fill="#505050" text-anchor="middle" textLength="26.07" lengthAdjust="spacingAndGlyphs" transform="translate(81 375.8) rotate(-90)">4'–0&quot;</text>
<line x1="83.2" y1="355.5" x2="133.8" y2="355.5" stroke="#ff0000" stroke-width="1"/>
<line x1="83.2" y1="397.5" x2="133.8" y2="397.5" stroke="#ff0000" stroke-width="1"/>
<line x1="122.5" y1="93.5" x2="122.5" y2="156.3" stroke="#ff0000" stroke-width="1"/>
<polygon points="122.5,93.5 121.6,98.7 123.4,98.7" fill="#ff3a3a" stroke="#ff3a3a" stroke-width="0.5"/>
<polygon points="122.5,156.3 121.6,151.1 123.4,151.1" fill="#ff3a3a" stroke="#ff3a3a" stroke-width="0.5"/>
<line x1="119" y1="156.5" x2="133.6" y2="156.5" stroke="#ff0000" stroke-width="1"/>
<text x="0" y="3.65" font-size="10.2" fill="#505050" text-anchor="middle" textLength="26.07" lengthAdjust="spacingAndGlyphs" transform="translate(116.6 124.7) rotate(-90)">6'–0&quot;</text>
<line x1="136.5" y1="399.8" x2="136.5" y2="841" stroke="#ff0000" stroke-width="1"/>
<line x1="62.5" y1="760.5" x2="211.3" y2="760.5" stroke="#ff0000" stroke-width="1"/>
<line x1="32" y1="776.5" x2="346" y2="776.5" stroke="#ff0000" stroke-width="1"/>
<line x1="433.1" y1="776.5" x2="651.8" y2="776.5" stroke="#ff0000" stroke-width="1"/>
<line x1="172.5" y1="357.6" x2="172.5" y2="484.3" stroke="#ff0000" stroke-width="1"/>
<polygon points="172.5,357.6 171.6,362.8 173.4,362.8" fill="#ff3a3a" stroke="#ff3a3a" stroke-width="0.5"/>
<polygon points="172.5,484.3 171.6,479.1 173.4,479.1" fill="#ff3a3a" stroke="#ff3a3a" stroke-width="0.5"/>
<text x="0" y="3.65" font-size="10.2" fill="#505050" text-anchor="middle" textLength="32.14" lengthAdjust="spacingAndGlyphs" transform="translate(166.4 419) rotate(-90)">12'–4&quot;</text>
<line x1="169.3" y1="484.5" x2="214.6" y2="484.5" stroke="#ff0000" stroke-width="1"/>
<line x1="175.5" y1="484.3" x2="175.5" y2="609.4" stroke="#ff0000" stroke-width="1"/>
<polygon points="175.5,484.3 174.6,489.5 176.4,489.5" fill="#ff3a3a" stroke="#ff3a3a" stroke-width="0.5"/>
<polygon points="175.5,609.4 174.6,604.2 176.4,604.2" fill="#ff3a3a" stroke="#ff3a3a" stroke-width="0.5"/>
<line x1="175.5" y1="609.4" x2="175.5" y2="635.3" stroke="#ff0000" stroke-width="1"/>
<polygon points="175.5,609.4 174.6,614.6 176.4,614.6" fill="#ff3a3a" stroke="#ff3a3a" stroke-width="0.5"/>
<polygon points="175.5,635.3 174.6,630.1 176.4,630.1" fill="#ff3a3a" stroke="#ff3a3a" stroke-width="0.5"/>
<line x1="175.5" y1="635.3" x2="175.5" y2="760.4" stroke="#ff0000" stroke-width="1"/>
<polygon points="175.5,635.3 174.6,640.5 176.4,640.5" fill="#ff3a3a" stroke="#ff3a3a" stroke-width="0.5"/>
<polygon points="175.5,760.4 174.6,755.2 176.4,755.2" fill="#ff3a3a" stroke="#ff3a3a" stroke-width="0.5"/>
<text x="0" y="3.65" font-size="10.2" fill="#505050" text-anchor="middle" textLength="32.14" lengthAdjust="spacingAndGlyphs" transform="translate(169.2 547.6) rotate(-90)">12'–0&quot;</text>
<text x="0" y="3.65" font-size="10.2" fill="#505050" text-anchor="middle" textLength="26.07" lengthAdjust="spacingAndGlyphs" transform="translate(169.4 622.5) rotate(-90)">2'–6&quot;</text>
<text x="0" y="3.65" font-size="10.2" fill="#505050" text-anchor="middle" textLength="32.14" lengthAdjust="spacingAndGlyphs" transform="translate(169.4 697.6) rotate(-90)">12'–0&quot;</text>
<line x1="171.7" y1="609.5" x2="213.7" y2="609.5" stroke="#ff0000" stroke-width="1"/>
<line x1="171.7" y1="635.5" x2="213.7" y2="635.5" stroke="#ff0000" stroke-width="1"/>
<line x1="196.5" y1="449.4" x2="196.5" y2="495.2" stroke="#ff0000" stroke-width="1"/>
<polygon points="196.5,461.4 195.6,456.2 197.4,456.2" fill="#ff3a3a" stroke="#ff3a3a" stroke-width="0.5"/>
<polygon points="196.5,484.3 195.6,489.5 197.4,489.5" fill="#ff3a3a" stroke="#ff3a3a" stroke-width="0.5"/>
<line x1="193.2" y1="461.5" x2="198.7" y2="461.5" stroke="#ff0000" stroke-width="1"/>
<text x="0" y="3.65" font-size="10.2" fill="#505050" text-anchor="middle" textLength="26.07" lengthAdjust="spacingAndGlyphs" transform="translate(190.4 472.8) rotate(-90)">2'–2&quot;</text>
<line x1="196.5" y1="569.4" x2="196.5" y2="621.8" stroke="#ff0000" stroke-width="1"/>
<polygon points="196.5,581 195.6,575.8 197.4,575.8" fill="#ff3a3a" stroke="#ff3a3a" stroke-width="0.5"/>
<polygon points="196.5,609.4 195.6,614.6 197.4,614.6" fill="#ff3a3a" stroke="#ff3a3a" stroke-width="0.5"/>
<line x1="193.2" y1="581.5" x2="198.7" y2="581.5" stroke="#ff0000" stroke-width="1"/>
<text x="0" y="3.65" font-size="10.2" fill="#505050" text-anchor="middle" textLength="26.07" lengthAdjust="spacingAndGlyphs" transform="translate(190.7 595.5) rotate(-90)">2'–8&quot;</text>
<line x1="136.2" y1="816.5" x2="573.8" y2="816.5" stroke="#ff0000" stroke-width="1"/>
<polygon points="136.2,816.5 141.4,815.6 141.4,817.4" fill="#ff3a3a" stroke="#ff3a3a" stroke-width="0.5"/>
<polygon points="213.3,816.5 208.1,815.6 208.1,817.4" fill="#ff3a3a" stroke="#ff3a3a" stroke-width="0.5"/>
<polygon points="213.3,816.5 218.5,815.6 218.5,817.4" fill="#ff3a3a" stroke="#ff3a3a" stroke-width="0.5"/>
<polygon points="353.5,816.5 348.3,815.6 348.3,817.4" fill="#ff3a3a" stroke="#ff3a3a" stroke-width="0.5"/>
<polygon points="353.5,816.5 358.7,815.6 358.7,817.4" fill="#ff3a3a" stroke="#ff3a3a" stroke-width="0.5"/>
<polygon points="527.4,816.5 522.2,815.6 522.2,817.4" fill="#ff3a3a" stroke="#ff3a3a" stroke-width="0.5"/>
<polygon points="527.4,816.5 532.6,815.6 532.6,817.4" fill="#ff3a3a" stroke="#ff3a3a" stroke-width="0.5"/>
<polygon points="573.8,816.5 568.6,815.6 568.6,817.4" fill="#ff3a3a" stroke="#ff3a3a" stroke-width="0.5"/>
<line x1="213.5" y1="763.3" x2="213.5" y2="819.7" stroke="#ff0000" stroke-width="1"/>
<line x1="353.5" y1="763.3" x2="353.5" y2="819.7" stroke="#ff0000" stroke-width="1"/>
<line x1="527.5" y1="738.2" x2="527.5" y2="819.7" stroke="#ff0000" stroke-width="1"/>
<line x1="573.5" y1="358.2" x2="573.5" y2="841.8" stroke="#ff0000" stroke-width="1"/>
<text x="0" y="3.65" font-size="10.2" fill="#505050" text-anchor="middle" textLength="26.07" lengthAdjust="spacingAndGlyphs" transform="translate(174.8 810.6)">7'–5&quot;</text>
<text x="0" y="3.65" font-size="10.2" fill="#505050" text-anchor="middle" textLength="32.14" lengthAdjust="spacingAndGlyphs" transform="translate(283.3 810.4)">13'–5&quot;</text>
<text x="0" y="3.65" font-size="10.2" fill="#505050" text-anchor="middle" textLength="32.14" lengthAdjust="spacingAndGlyphs" transform="translate(440.9 810.4)">16'–9&quot;</text>
<text x="0" y="3.65" font-size="10.2" fill="#505050" text-anchor="middle" textLength="26.07" lengthAdjust="spacingAndGlyphs" transform="translate(551 810.4)">4'–5&quot;</text>
<line x1="136.2" y1="838.5" x2="573.8" y2="838.5" stroke="#ff0000" stroke-width="1"/>
<polygon points="136.2,838.5 141.4,837.6 141.4,839.4" fill="#ff3a3a" stroke="#ff3a3a" stroke-width="0.5"/>
<polygon points="573.8,838.5 568.6,837.6 568.6,839.4" fill="#ff3a3a" stroke="#ff3a3a" stroke-width="0.5"/>
<text x="0" y="3.65" font-size="10.2" fill="#505050" text-anchor="middle" textLength="32.14" lengthAdjust="spacingAndGlyphs" transform="translate(354.8 831.7)">42'–0&quot;</text>
<line x1="213.3" y1="793.5" x2="268.5" y2="793.5" stroke="#ff0000" stroke-width="1"/>
<polygon points="213.3,793.5 218.5,792.6 218.5,794.4" fill="#ff3a3a" stroke="#ff3a3a" stroke-width="0.5"/>
<polygon points="268.5,793.5 263.3,792.6 263.3,794.4" fill="#ff3a3a" stroke="#ff3a3a" stroke-width="0.5"/>
<line x1="268.5" y1="775.3" x2="268.5" y2="796.7" stroke="#ff0000" stroke-width="1"/>
<text x="0" y="3.65" font-size="10.2" fill="#505050" text-anchor="middle" textLength="26.07" lengthAdjust="spacingAndGlyphs" transform="translate(241.4 787)">5'–3&quot;</text>
<line x1="479.5" y1="761.5" x2="527.4" y2="761.5" stroke="#ff0000" stroke-width="1"/>
<polygon points="479.5,761.5 484.7,760.6 484.7,762.4" fill="#ff3a3a" stroke="#ff3a3a" stroke-width="0.5"/>
<polygon points="527.4,761.5 522.2,760.6 522.2,762.4" fill="#ff3a3a" stroke="#ff3a3a" stroke-width="0.5"/>
<line x1="479.5" y1="749" x2="479.5" y2="764.8" stroke="#ff0000" stroke-width="1"/>
<text x="0" y="3.65" font-size="10.2" fill="#505050" text-anchor="middle" textLength="26.07" lengthAdjust="spacingAndGlyphs" transform="translate(503.6 755.2)">4'–8&quot;</text>
<line x1="575.7" y1="93.5" x2="651.8" y2="93.5" stroke="#ff0000" stroke-width="1"/>
<line x1="616.5" y1="93.5" x2="616.5" y2="214.6" stroke="#ff0000" stroke-width="1"/>
<polygon points="616.5,93.5 615.6,98.7 617.4,98.7" fill="#ff3a3a" stroke="#ff3a3a" stroke-width="0.5"/>
<polygon points="616.5,214.6 615.6,209.4 617.4,209.4" fill="#ff3a3a" stroke="#ff3a3a" stroke-width="0.5"/>
<line x1="616.5" y1="214.6" x2="616.5" y2="354.9" stroke="#ff0000" stroke-width="1"/>
<polygon points="616.5,214.6 615.6,219.8 617.4,219.8" fill="#ff3a3a" stroke="#ff3a3a" stroke-width="0.5"/>
<polygon points="616.5,354.9 615.6,349.7 617.4,349.7" fill="#ff3a3a" stroke="#ff3a3a" stroke-width="0.5"/>
<line x1="616.5" y1="354.9" x2="616.5" y2="382.6" stroke="#ff0000" stroke-width="1"/>
<polygon points="616.5,354.9 615.6,360.1 617.4,360.1" fill="#ff3a3a" stroke="#ff3a3a" stroke-width="0.5"/>
<polygon points="616.5,382.6 615.6,377.4 617.4,377.4" fill="#ff3a3a" stroke="#ff3a3a" stroke-width="0.5"/>
<line x1="616.5" y1="382.6" x2="616.5" y2="440.6" stroke="#ff0000" stroke-width="1"/>
<polygon points="616.5,382.6 615.6,387.8 617.4,387.8" fill="#ff3a3a" stroke="#ff3a3a" stroke-width="0.5"/>
<polygon points="616.5,440.6 615.6,435.4 617.4,435.4" fill="#ff3a3a" stroke="#ff3a3a" stroke-width="0.5"/>
<line x1="616.5" y1="440.6" x2="616.5" y2="735.7" stroke="#ff0000" stroke-width="1"/>
<polygon points="616.5,440.6 615.6,445.8 617.4,445.8" fill="#ff3a3a" stroke="#ff3a3a" stroke-width="0.5"/>
<polygon points="616.5,735.7 615.6,730.5 617.4,730.5" fill="#ff3a3a" stroke="#ff3a3a" stroke-width="0.5"/>
<line x1="616.5" y1="735.7" x2="616.5" y2="776.6" stroke="#ff0000" stroke-width="1"/>
<polygon points="616.5,735.7 615.6,740.9 617.4,740.9" fill="#ff3a3a" stroke="#ff3a3a" stroke-width="0.5"/>
<polygon points="616.5,776.6 615.6,771.4 617.4,771.4" fill="#ff3a3a" stroke="#ff3a3a" stroke-width="0.5"/>
<line x1="648.5" y1="93.5" x2="648.5" y2="776.6" stroke="#ff0000" stroke-width="1"/>
<polygon points="648.5,93.5 647.6,98.7 649.4,98.7" fill="#ff3a3a" stroke="#ff3a3a" stroke-width="0.5"/>
<polygon points="648.5,776.6 647.6,771.4 649.4,771.4" fill="#ff3a3a" stroke="#ff3a3a" stroke-width="0.5"/>
<text x="0" y="3.65" font-size="10.2" fill="#505050" text-anchor="middle" textLength="32.14" lengthAdjust="spacingAndGlyphs" transform="translate(609.7 154.2) rotate(-90)">11'–7&quot;</text>
<text x="0" y="3.65" font-size="10.2" fill="#505050" text-anchor="middle" textLength="32.14" lengthAdjust="spacingAndGlyphs" transform="translate(610.1 285) rotate(-90)">13'–7&quot;</text>
<text x="0" y="3.65" font-size="10.2" fill="#505050" text-anchor="middle" textLength="26.07" lengthAdjust="spacingAndGlyphs" transform="translate(610.1 369.1) rotate(-90)">2'–7&quot;</text>
<text x="0" y="3.65" font-size="10.2" fill="#505050" text-anchor="middle" textLength="26.07" lengthAdjust="spacingAndGlyphs" transform="translate(610.1 411.6) rotate(-90)">5'–7&quot;</text>
<text x="0" y="3.65" font-size="10.2" fill="#505050" text-anchor="middle" textLength="32.14" lengthAdjust="spacingAndGlyphs" transform="translate(610.2 587.9) rotate(-90)">28'–3&quot;</text>
<text x="0" y="3.65" font-size="10.2" fill="#505050" text-anchor="middle" textLength="26.07" lengthAdjust="spacingAndGlyphs" transform="translate(609.9 759) rotate(-90)">4'–0&quot;</text>
<text x="0" y="3.65" font-size="10.2" fill="#505050" text-anchor="middle" textLength="32.14" lengthAdjust="spacingAndGlyphs" transform="translate(642.9 435.5) rotate(-90)">65'–7&quot;</text>
<line x1="559.8" y1="214.5" x2="619.7" y2="214.5" stroke="#ff0000" stroke-width="1"/>
<line x1="575.9" y1="354.5" x2="619.7" y2="354.5" stroke="#ff0000" stroke-width="1"/>
<line x1="528.4" y1="382.5" x2="619.7" y2="382.5" stroke="#ff0000" stroke-width="1"/>
<line x1="528.4" y1="440.5" x2="619.7" y2="440.5" stroke="#ff0000" stroke-width="1"/>
<line x1="529.7" y1="735.5" x2="619.7" y2="735.5" stroke="#ff0000" stroke-width="1"/>
<line x1="598.5" y1="294.4" x2="598.5" y2="354.9" stroke="#ff0000" stroke-width="1"/>
<polygon points="598.5,294.4 597.6,299.6 599.4,299.6" fill="#ff3a3a" stroke="#ff3a3a" stroke-width="0.5"/>
<polygon points="598.5,354.9 597.6,349.7 599.4,349.7" fill="#ff3a3a" stroke="#ff3a3a" stroke-width="0.5"/>
<line x1="588.4" y1="294.5" x2="601.7" y2="294.5" stroke="#ff0000" stroke-width="1"/>
<text x="0" y="3.65" font-size="10.2" fill="#505050" text-anchor="middle" textLength="32.14" lengthAdjust="spacingAndGlyphs" transform="translate(592.7 325.4) rotate(-90)">5'–11&quot;</text>
<line x1="555.5" y1="440.6" x2="555.5" y2="497.4" stroke="#ff0000" stroke-width="1"/>
<polygon points="555.5,440.6 554.6,445.8 556.4,445.8" fill="#ff3a3a" stroke="#ff3a3a" stroke-width="0.5"/>
<polygon points="555.5,497.4 554.6,492.2 556.4,492.2" fill="#ff3a3a" stroke="#ff3a3a" stroke-width="0.5"/>
<line x1="530.1" y1="497.5" x2="557.8" y2="497.5" stroke="#ff0000" stroke-width="1"/>
<text x="0" y="3.65" font-size="10.2" fill="#505050" text-anchor="middle" textLength="26.07" lengthAdjust="spacingAndGlyphs" transform="translate(549.1 468.4) rotate(-90)">5'–5&quot;</text>
<line x1="551.5" y1="599.7" x2="551.5" y2="735.7" stroke="#ff0000" stroke-width="1"/>
<polygon points="551.5,599.7 550.6,604.9 552.4,604.9" fill="#ff3a3a" stroke="#ff3a3a" stroke-width="0.5"/>
<polygon points="551.5,735.7 550.6,730.5 552.4,730.5" fill="#ff3a3a" stroke="#ff3a3a" stroke-width="0.5"/>
<line x1="542.3" y1="599.5" x2="554.8" y2="599.5" stroke="#ff0000" stroke-width="1"/>
<text x="0" y="3.65" font-size="10.2" fill="#505050" text-anchor="middle" textLength="32.14" lengthAdjust="spacingAndGlyphs" transform="translate(545.3 666.9) rotate(-90)">13'–0&quot;</text>
<line x1="374.5" y1="93.5" x2="374.5" y2="214.6" stroke="#ff0000" stroke-width="1"/>
<polygon points="374.5,93.5 373.6,98.7 375.4,98.7" fill="#ff3a3a" stroke="#ff3a3a" stroke-width="0.5"/>
<polygon points="374.5,136.3 373.6,131.1 375.4,131.1" fill="#ff3a3a" stroke="#ff3a3a" stroke-width="0.5"/>
<polygon points="374.5,136.3 373.6,141.5 375.4,141.5" fill="#ff3a3a" stroke="#ff3a3a" stroke-width="0.5"/>
<polygon points="374.5,178.1 373.6,172.9 375.4,172.9" fill="#ff3a3a" stroke="#ff3a3a" stroke-width="0.5"/>
<polygon points="374.5,178.1 373.6,183.3 375.4,183.3" fill="#ff3a3a" stroke="#ff3a3a" stroke-width="0.5"/>
<polygon points="374.5,214.6 373.6,209.4 375.4,209.4" fill="#ff3a3a" stroke="#ff3a3a" stroke-width="0.5"/>
<line x1="371" y1="93.5" x2="383" y2="93.5" stroke="#ff0000" stroke-width="1"/>
<line x1="371" y1="136.5" x2="386" y2="136.5" stroke="#ff0000" stroke-width="1"/>
<line x1="371" y1="178.5" x2="386" y2="178.5" stroke="#ff0000" stroke-width="1"/>
<line x1="371" y1="214.5" x2="379" y2="214.5" stroke="#ff0000" stroke-width="1"/>
<text x="0" y="3.65" font-size="10.2" fill="#505050" text-anchor="middle" textLength="26.07" lengthAdjust="spacingAndGlyphs" transform="translate(368.2 114.9) rotate(-90)">4'–2&quot;</text>
<text x="0" y="3.65" font-size="10.2" fill="#505050" text-anchor="middle" textLength="26.07" lengthAdjust="spacingAndGlyphs" transform="translate(368.2 157.4) rotate(-90)">4'–1&quot;</text>
<text x="0" y="3.65" font-size="10.2" fill="#505050" text-anchor="middle" textLength="26.07" lengthAdjust="spacingAndGlyphs" transform="translate(368.2 196.7) rotate(-90)">3'–5&quot;</text>
<line x1="295.5" y1="214.6" x2="295.5" y2="352.8" stroke="#ff0000" stroke-width="1"/>
<polygon points="295.5,214.6 294.6,219.8 296.4,219.8" fill="#ff3a3a" stroke="#ff3a3a" stroke-width="0.5"/>
<polygon points="295.5,248.4 294.6,243.2 296.4,243.2" fill="#ff3a3a" stroke="#ff3a3a" stroke-width="0.5"/>
<polygon points="295.5,248.4 294.6,253.6 296.4,253.6" fill="#ff3a3a" stroke="#ff3a3a" stroke-width="0.5"/>
<polygon points="295.5,352.8 294.6,347.6 296.4,347.6" fill="#ff3a3a" stroke="#ff3a3a" stroke-width="0.5"/>
<line x1="291.4" y1="214.5" x2="299.7" y2="214.5" stroke="#ff0000" stroke-width="1"/>
<line x1="292" y1="248.5" x2="308.4" y2="248.5" stroke="#ff0000" stroke-width="1"/>
<text x="0" y="3.65" font-size="10.2" fill="#505050" text-anchor="middle" textLength="26.07" lengthAdjust="spacingAndGlyphs" transform="translate(290.2 231.6) rotate(-90)">3'–4&quot;</text>
<text x="0" y="3.65" font-size="10.2" fill="#505050" text-anchor="middle" textLength="32.14" lengthAdjust="spacingAndGlyphs" transform="translate(290.2 300.3) rotate(-90)">9'–11&quot;</text>
<line x1="139.2" y1="305.5" x2="306.2" y2="305.5" stroke="#ff0000" stroke-width="1"/>
<polygon points="139.2,305.5 144.4,304.6 144.4,306.4" fill="#ff3a3a" stroke="#ff3a3a" stroke-width="0.5"/>
<polygon points="306.2,305.5 301,304.6 301,306.4" fill="#ff3a3a" stroke="#ff3a3a" stroke-width="0.5"/>
<text x="0" y="3.65" font-size="10.2" fill="#505050" text-anchor="middle" textLength="32.14" lengthAdjust="spacingAndGlyphs" transform="translate(222.7 299.6)">16'–0&quot;</text>
<line x1="136.5" y1="324.5" x2="184.5" y2="324.5" stroke="#ff0000" stroke-width="1"/>
<polygon points="136.5,324.5 141.7,323.6 141.7,325.4" fill="#ff3a3a" stroke="#ff3a3a" stroke-width="0.5"/>
<polygon points="184.5,324.5 179.3,323.6 179.3,325.4" fill="#ff3a3a" stroke="#ff3a3a" stroke-width="0.5"/>
<line x1="184.5" y1="322.3" x2="184.5" y2="341.3" stroke="#ff0000" stroke-width="1"/>
<text x="0" y="3.65" font-size="10.2" fill="#505050" text-anchor="middle" textLength="26.07" lengthAdjust="spacingAndGlyphs" transform="translate(160.5 318.8)">4'–8&quot;</text>
<line x1="308.4" y1="237.5" x2="422.2" y2="237.5" stroke="#ff0000" stroke-width="1"/>
<polygon points="308.4,237.5 313.6,236.6 313.6,238.4" fill="#ff3a3a" stroke="#ff3a3a" stroke-width="0.5"/>
<polygon points="365.5,237.5 360.3,236.6 360.3,238.4" fill="#ff3a3a" stroke="#ff3a3a" stroke-width="0.5"/>
<polygon points="365.5,237.5 370.7,236.6 370.7,238.4" fill="#ff3a3a" stroke="#ff3a3a" stroke-width="0.5"/>
<polygon points="422.2,237.5 417,236.6 417,238.4" fill="#ff3a3a" stroke="#ff3a3a" stroke-width="0.5"/>
<line x1="308.5" y1="234.9" x2="308.5" y2="247.3" stroke="#ff0000" stroke-width="1"/>
<line x1="365.5" y1="234.9" x2="365.5" y2="248" stroke="#ff0000" stroke-width="1"/>
<line x1="422.5" y1="236" x2="422.5" y2="254.5" stroke="#ff0000" stroke-width="1"/>
<line x1="422.5" y1="257.8" x2="422.5" y2="266.5" stroke="#ff0000" stroke-width="1"/>
<text x="0" y="3.65" font-size="10.2" fill="#505050" text-anchor="middle" textLength="26.07" lengthAdjust="spacingAndGlyphs" transform="translate(337.1 232)">5'–6&quot;</text>
<text x="0" y="3.65" font-size="10.2" fill="#505050" text-anchor="middle" textLength="26.07" lengthAdjust="spacingAndGlyphs" transform="translate(394.5 232)">5'–6&quot;</text>
<line x1="422.2" y1="264.5" x2="487.6" y2="264.5" stroke="#ff0000" stroke-width="1"/>
<polygon points="422.2,264.5 427.4,263.6 427.4,265.4" fill="#ff3a3a" stroke="#ff3a3a" stroke-width="0.5"/>
<polygon points="487.6,264.5 482.4,263.6 482.4,265.4" fill="#ff3a3a" stroke="#ff3a3a" stroke-width="0.5"/>
<line x1="487.5" y1="250.6" x2="487.5" y2="267.6" stroke="#ff0000" stroke-width="1"/>
<text x="0" y="3.65" font-size="10.2" fill="#505050" text-anchor="middle" textLength="26.07" lengthAdjust="spacingAndGlyphs" transform="translate(454.9 258.2)">6'–2&quot;</text>
<line x1="476.5" y1="214.2" x2="476.5" y2="248" stroke="#ff0000" stroke-width="1"/>
<polygon points="476.5,214.2 475.6,219.4 477.4,219.4" fill="#ff3a3a" stroke="#ff3a3a" stroke-width="0.5"/>
<polygon points="476.5,248 475.6,242.8 477.4,242.8" fill="#ff3a3a" stroke="#ff3a3a" stroke-width="0.5"/>
<line x1="473.4" y1="214.5" x2="478.9" y2="214.5" stroke="#ff0000" stroke-width="1"/>
<line x1="473.4" y1="248.5" x2="485.4" y2="248.5" stroke="#ff0000" stroke-width="1"/>
<text x="0" y="3.65" font-size="10.2" fill="#505050" text-anchor="middle" textLength="26.07" lengthAdjust="spacingAndGlyphs" transform="translate(470.1 230.5) rotate(-90)">3'–4&quot;</text>
<line x1="448.5" y1="196.5" x2="573.5" y2="196.5" stroke="#ff0000" stroke-width="1"/>
<polygon points="448.5,196.5 453.7,195.6 453.7,197.4" fill="#ff3a3a" stroke="#ff3a3a" stroke-width="0.5"/>
<polygon points="487.1,196.5 481.9,195.6 481.9,197.4" fill="#ff3a3a" stroke="#ff3a3a" stroke-width="0.5"/>
<polygon points="487.1,196.5 492.3,195.6 492.3,197.4" fill="#ff3a3a" stroke="#ff3a3a" stroke-width="0.5"/>
<polygon points="573.5,196.5 568.3,195.6 568.3,197.4" fill="#ff3a3a" stroke="#ff3a3a" stroke-width="0.5"/>
<line x1="487.5" y1="193" x2="487.5" y2="213.5" stroke="#ff0000" stroke-width="1"/>
<line x1="448.5" y1="193" x2="448.5" y2="209.8" stroke="#ff0000" stroke-width="1"/>
<line x1="573.5" y1="193" x2="573.5" y2="211.8" stroke="#ff0000" stroke-width="1"/>
<text x="0" y="3.65" font-size="10.2" fill="#505050" text-anchor="middle" textLength="26.07" lengthAdjust="spacingAndGlyphs" transform="translate(468.2 189.9)">3'–8&quot;</text>
<text x="0" y="3.65" font-size="10.2" fill="#505050" text-anchor="middle" textLength="26.07" lengthAdjust="spacingAndGlyphs" transform="translate(530.3 189.9)">8'–4&quot;</text>
<line x1="422.2" y1="332.5" x2="570.9" y2="332.5" stroke="#ff0000" stroke-width="1"/>
<polygon points="422.2,332.5 427.4,331.6 427.4,333.4" fill="#ff3a3a" stroke="#ff3a3a" stroke-width="0.5"/>
<polygon points="570.9,332.5 565.7,331.6 565.7,333.4" fill="#ff3a3a" stroke="#ff3a3a" stroke-width="0.5"/>
<line x1="422.5" y1="329.8" x2="422.5" y2="341.8" stroke="#ff0000" stroke-width="1"/>
<line x1="570.5" y1="329.8" x2="570.5" y2="342.9" stroke="#ff0000" stroke-width="1"/>
<text x="0" y="3.65" font-size="10.2" fill="#505050" text-anchor="middle" textLength="32.14" lengthAdjust="spacingAndGlyphs" transform="translate(496.3 326.5)">14'–2&quot;</text>
<line x1="342.5" y1="343.1" x2="342.5" y2="484.4" stroke="#ff0000" stroke-width="1"/>
<line x1="339.1" y1="484.5" x2="344" y2="484.5" stroke="#ff0000" stroke-width="1"/>
<polygon points="342.5,383.4 341.6,378.2 343.4,378.2" fill="#ff3a3a" stroke="#ff3a3a" stroke-width="0.5"/>
<polygon points="342.5,383.4 341.6,388.6 343.4,388.6" fill="#ff3a3a" stroke="#ff3a3a" stroke-width="0.5"/>
<polygon points="342.5,432.9 341.6,427.7 343.4,427.7" fill="#ff3a3a" stroke="#ff3a3a" stroke-width="0.5"/>
<polygon points="342.5,432.9 341.6,438.1 343.4,438.1" fill="#ff3a3a" stroke="#ff3a3a" stroke-width="0.5"/>
<polygon points="342.5,484.4 341.6,479.2 343.4,479.2" fill="#ff3a3a" stroke="#ff3a3a" stroke-width="0.5"/>
<polygon points="342.5,357.3 341.6,362.5 343.4,362.5" fill="#ff3a3a" stroke="#ff3a3a" stroke-width="0.5"/>
<line x1="339" y1="383.5" x2="365.9" y2="383.5" stroke="#ff0000" stroke-width="1"/>
<line x1="339.3" y1="432.5" x2="360" y2="432.5" stroke="#ff0000" stroke-width="1"/>
<line x1="339" y1="354.5" x2="359.5" y2="354.5" stroke="#ff0000" stroke-width="1"/>
<text x="0" y="3.65" font-size="10.2" fill="#505050" text-anchor="middle" textLength="26.07" lengthAdjust="spacingAndGlyphs" transform="translate(336.4 370.3) rotate(-90)">2'–9&quot;</text>
<text x="0" y="3.65" font-size="10.2" fill="#505050" text-anchor="middle" textLength="32.14" lengthAdjust="spacingAndGlyphs" transform="translate(336.4 408.5) rotate(-90)">4'–10&quot;</text>
<text x="0" y="3.65" font-size="10.2" fill="#505050" text-anchor="middle" textLength="32.14" lengthAdjust="spacingAndGlyphs" transform="translate(336.4 458.7) rotate(-90)">4'–10&quot;</text>
<line x1="351.3" y1="423.5" x2="432.6" y2="423.5" stroke="#ff0000" stroke-width="1"/>
<polygon points="351.3,423.5 356.5,422.6 356.5,424.4" fill="#ff3a3a" stroke="#ff3a3a" stroke-width="0.5"/>
<polygon points="412.3,423.5 407.1,422.6 407.1,424.4" fill="#ff3a3a" stroke="#ff3a3a" stroke-width="0.5"/>
<polygon points="412.3,423.5 417.5,422.6 417.5,424.4" fill="#ff3a3a" stroke="#ff3a3a" stroke-width="0.5"/>
<polygon points="421.5,423.5 426.7,422.6 426.7,424.4" fill="#ff3a3a" stroke="#ff3a3a" stroke-width="0.5"/>
<line x1="351.5" y1="419.9" x2="351.5" y2="432.5" stroke="#ff0000" stroke-width="1"/>
<line x1="412.5" y1="419.9" x2="412.5" y2="432.5" stroke="#ff0000" stroke-width="1"/>
<line x1="421.5" y1="415.1" x2="421.5" y2="427.1" stroke="#ff0000" stroke-width="1"/>
<text x="0" y="3.65" font-size="10.2" fill="#505050" text-anchor="middle" textLength="32.14" lengthAdjust="spacingAndGlyphs" transform="translate(381.8 417)">5'–10&quot;</text>
<text x="0" y="3.65" font-size="10.2" fill="#505050" text-anchor="middle" textLength="16.46" lengthAdjust="spacingAndGlyphs" transform="translate(416.6 417)">10&quot;</text>
<line x1="214" y1="468.5" x2="313.2" y2="468.5" stroke="#ff0000" stroke-width="1"/>
<polygon points="214,468.5 219.2,467.6 219.2,469.4" fill="#ff3a3a" stroke="#ff3a3a" stroke-width="0.5"/>
<polygon points="313.2,468.5 308,467.6 308,469.4" fill="#ff3a3a" stroke="#ff3a3a" stroke-width="0.5"/>
<line x1="313.5" y1="464.7" x2="313.5" y2="502.4" stroke="#ff0000" stroke-width="1"/>
<line x1="213.5" y1="465" x2="213.5" y2="482" stroke="#ff0000" stroke-width="1"/>
<text x="0" y="3.65" font-size="10.2" fill="#505050" text-anchor="middle" textLength="26.07" lengthAdjust="spacingAndGlyphs" transform="translate(263.5 461.8)">9'–7&quot;</text>
<line x1="313.5" y1="499.5" x2="351.4" y2="499.5" stroke="#ff0000" stroke-width="1"/>
<polygon points="313.5,499.5 318.7,498.6 318.7,500.4" fill="#ff3a3a" stroke="#ff3a3a" stroke-width="0.5"/>
<polygon points="351.4,499.5 346.2,498.6 346.2,500.4" fill="#ff3a3a" stroke="#ff3a3a" stroke-width="0.5"/>
<line x1="351.5" y1="485" x2="351.5" y2="501.2" stroke="#ff0000" stroke-width="1"/>
<text x="0" y="3.65" font-size="10.2" fill="#505050" text-anchor="middle" textLength="26.07" lengthAdjust="spacingAndGlyphs" transform="translate(332.7 493.4)">3'–8&quot;</text>
<line x1="351.3" y1="605.5" x2="424.5" y2="605.5" stroke="#ff0000" stroke-width="1"/>
<polygon points="351.3,605.5 356.5,604.6 356.5,606.4" fill="#ff3a3a" stroke="#ff3a3a" stroke-width="0.5"/>
<polygon points="387.4,605.5 382.2,604.6 382.2,606.4" fill="#ff3a3a" stroke="#ff3a3a" stroke-width="0.5"/>
<polygon points="413.6,605.5 418.8,604.6 418.8,606.4" fill="#ff3a3a" stroke="#ff3a3a" stroke-width="0.5"/>
<line x1="351.5" y1="597.1" x2="351.5" y2="608.9" stroke="#ff0000" stroke-width="1"/>
<line x1="387.5" y1="587" x2="387.5" y2="608.9" stroke="#ff0000" stroke-width="1"/>
<line x1="413.5" y1="580" x2="413.5" y2="608.9" stroke="#ff0000" stroke-width="1"/>
<text x="0" y="3.65" font-size="10.2" fill="#505050" text-anchor="middle" textLength="26.07" lengthAdjust="spacingAndGlyphs" transform="translate(369.9 598.9)">3'–5&quot;</text>
<text x="0" y="3.65" font-size="10.2" fill="#505050" text-anchor="middle" textLength="26.07" lengthAdjust="spacingAndGlyphs" transform="translate(400.4 598.5)">2'–6&quot;</text>
<line x1="346.5" y1="585.3" x2="346.5" y2="635.3" stroke="#ff0000" stroke-width="1"/>
<polygon points="346.5,585.3 345.6,590.5 347.4,590.5" fill="#ff3a3a" stroke="#ff3a3a" stroke-width="0.5"/>
<polygon points="346.5,635.3 345.6,630.1 347.4,630.1" fill="#ff3a3a" stroke="#ff3a3a" stroke-width="0.5"/>
<line x1="343.1" y1="585.5" x2="350.9" y2="585.5" stroke="#ff0000" stroke-width="1"/>
<line x1="346.6" y1="635.5" x2="368.8" y2="635.5" stroke="#ff0000" stroke-width="1"/>
<text x="0" y="3.65" font-size="10.2" fill="#505050" text-anchor="middle" textLength="26.07" lengthAdjust="spacingAndGlyphs" transform="translate(340.6 610) rotate(-90)">4'–9&quot;</text>
<line x1="213.6" y1="660.5" x2="351.4" y2="660.5" stroke="#ff0000" stroke-width="1"/>
<polygon points="213.6,660.5 218.8,659.6 218.8,661.4" fill="#ff3a3a" stroke="#ff3a3a" stroke-width="0.5"/>
<polygon points="268.5,660.5 263.3,659.6 263.3,661.4" fill="#ff3a3a" stroke="#ff3a3a" stroke-width="0.5"/>
<polygon points="268.5,660.5 273.7,659.6 273.7,661.4" fill="#ff3a3a" stroke="#ff3a3a" stroke-width="0.5"/>
<polygon points="313.7,660.5 308.5,659.6 308.5,661.4" fill="#ff3a3a" stroke="#ff3a3a" stroke-width="0.5"/>
<polygon points="313.7,660.5 318.9,659.6 318.9,661.4" fill="#ff3a3a" stroke="#ff3a3a" stroke-width="0.5"/>
<polygon points="351.4,660.5 346.2,659.6 346.2,661.4" fill="#ff3a3a" stroke="#ff3a3a" stroke-width="0.5"/>
<line x1="268.5" y1="636" x2="268.5" y2="663.2" stroke="#ff0000" stroke-width="1"/>
<line x1="313.5" y1="636" x2="313.5" y2="663.2" stroke="#ff0000" stroke-width="1"/>
<line x1="351.5" y1="653.4" x2="351.5" y2="663.2" stroke="#ff0000" stroke-width="1"/>
<text x="0" y="3.65" font-size="10.2" fill="#505050" text-anchor="middle" textLength="26.07" lengthAdjust="spacingAndGlyphs" transform="translate(241.3 654.5)">5'–3&quot;</text>
<text x="0" y="3.65" font-size="10.2" fill="#505050" text-anchor="middle" textLength="26.07" lengthAdjust="spacingAndGlyphs" transform="translate(291 654.5)">4'–4&quot;</text>
<text x="0" y="3.65" font-size="10.2" fill="#505050" text-anchor="middle" textLength="26.07" lengthAdjust="spacingAndGlyphs" transform="translate(332.9 654.5)">3'–8&quot;</text>
<line x1="365.5" y1="635.3" x2="365.5" y2="735.4" stroke="#ff0000" stroke-width="1"/>
<polygon points="365.5,635.3 364.6,640.5 366.4,640.5" fill="#ff3a3a" stroke="#ff3a3a" stroke-width="0.5"/>
<polygon points="365.5,735.4 364.6,730.2 366.4,730.2" fill="#ff3a3a" stroke="#ff3a3a" stroke-width="0.5"/>
<line x1="356" y1="735.5" x2="369" y2="735.5" stroke="#ff0000" stroke-width="1"/>
<text x="0" y="3.65" font-size="10.2" fill="#505050" text-anchor="middle" textLength="26.07" lengthAdjust="spacingAndGlyphs" transform="translate(359.2 685) rotate(-90)">9'–7&quot;</text>
<line x1="334.5" y1="722.7" x2="334.5" y2="772.8" stroke="#ff0000" stroke-width="1"/>
<polygon points="334.5,735.2 333.6,730 335.4,730" fill="#ff3a3a" stroke="#ff3a3a" stroke-width="0.5"/>
<polygon points="334.5,760.3 333.6,765.5 335.4,765.5" fill="#ff3a3a" stroke="#ff3a3a" stroke-width="0.5"/>
<line x1="331.7" y1="735.5" x2="350.5" y2="735.5" stroke="#ff0000" stroke-width="1"/>
<line x1="326.7" y1="760.5" x2="350.5" y2="760.5" stroke="#ff0000" stroke-width="1"/>
<text x="0" y="3.65" font-size="10.2" fill="#505050" text-anchor="middle" textLength="26.07" lengthAdjust="spacingAndGlyphs" transform="translate(328.9 747.8) rotate(-90)">2'–5&quot;</text>
</svg>
</body></html>
